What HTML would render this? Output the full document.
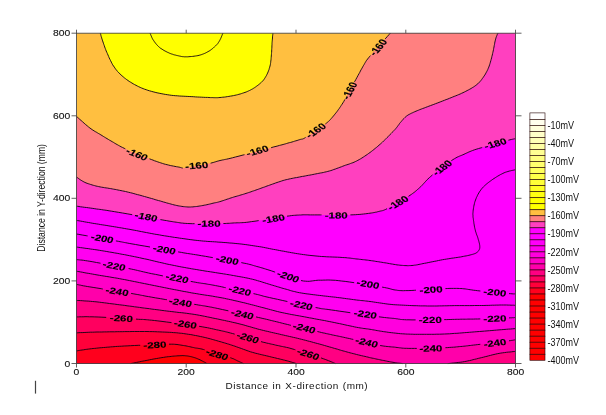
<!DOCTYPE html>
<html><head><meta charset="utf-8"><title>Contour plot</title>
<style>html,body{margin:0;padding:0;background:#fff;overflow:hidden}svg{display:block}</style>
</head><body>
<svg width="606" height="415" viewBox="0 0 606 415" font-family="'Liberation Sans', sans-serif">
<defs><filter id="soft" x="0" y="0" width="606" height="415" filterUnits="userSpaceOnUse" color-interpolation-filters="sRGB"><feGaussianBlur stdDeviation="0.45 0.3"/></filter></defs>
<rect width="606" height="415" fill="#fff"/>
<g filter="url(#soft)">
<rect width="606" height="415" fill="#fff"/>
<rect x="76.5" y="33.2" width="439.0" height="330.3" fill="#ffbf40"/>
<path d="M100.3,33.0 L100.4,33.5 L100.6,34.1 L100.8,34.8 L101.0,35.7 L101.3,36.6 L101.6,37.6 L101.9,38.7 L102.3,39.9 L102.7,41.2 L103.2,42.6 L103.7,44.1 L104.3,45.7 L104.8,47.3 L105.5,49.0 L106.1,50.7 L106.8,52.3 L107.5,54.0 L108.3,55.7 L109.1,57.5 L109.9,59.3 L110.8,61.1 L111.6,62.8 L112.6,64.5 L113.5,66.0 L114.5,67.4 L115.4,68.8 L116.4,70.0 L117.4,71.3 L118.5,72.4 L119.6,73.6 L120.8,74.7 L122.1,75.9 L123.5,77.1 L124.9,78.2 L126.4,79.4 L128.0,80.5 L129.6,81.6 L131.2,82.6 L132.9,83.6 L134.6,84.6 L136.3,85.5 L138.0,86.4 L139.8,87.2 L141.6,88.0 L143.4,88.7 L145.4,89.4 L147.4,90.1 L149.5,90.8 L151.7,91.4 L154.1,92.1 L156.6,92.6 L159.1,93.2 L161.7,93.7 L164.2,94.2 L166.8,94.6 L169.3,95.0 L171.8,95.3 L174.3,95.6 L176.8,95.8 L179.3,96.0 L181.7,96.1 L184.2,96.2 L186.7,96.4 L189.2,96.5 L191.7,96.7 L194.4,96.8 L197.0,97.0 L199.7,97.1 L202.2,97.2 L204.7,97.3 L206.9,97.4 L209.0,97.5 L210.8,97.6 L212.3,97.6 L213.6,97.7 L214.8,97.7 L216.0,97.7 L217.2,97.7 L218.5,97.6 L220.0,97.5 L221.7,97.3 L223.5,97.1 L225.4,96.9 L227.4,96.6 L229.3,96.3 L231.3,96.0 L233.1,95.7 L234.9,95.3 L236.6,94.9 L238.2,94.5 L239.8,94.1 L241.4,93.6 L242.9,93.1 L244.4,92.6 L245.9,92.1 L247.3,91.5 L248.7,90.9 L250.0,90.2 L251.3,89.6 L252.6,88.9 L253.8,88.1 L255.0,87.4 L256.1,86.6 L257.2,85.8 L258.3,85.0 L259.3,84.2 L260.3,83.3 L261.3,82.4 L262.2,81.5 L263.1,80.6 L263.9,79.5 L264.7,78.4 L265.5,77.2 L266.2,75.9 L266.9,74.5 L267.6,73.1 L268.2,71.7 L268.7,70.2 L269.2,68.7 L269.7,67.2 L270.1,65.7 L270.4,64.2 L270.6,62.6 L270.8,61.1 L271.0,59.5 L271.1,57.9 L271.3,56.4 L271.4,54.8 L271.5,53.2 L271.6,51.6 L271.7,50.0 L271.8,48.4 L271.9,46.8 L271.9,45.3 L272.0,43.8 L272.1,42.4 L272.2,41.0 L272.3,39.7 L272.4,38.3 L272.5,37.0 L272.7,35.8 L272.8,34.8 L272.8,33.9 L272.9,33.2Z" fill="#ffff00"/>
<path d="M76.5,116.4 L77.6,117.3 L79.0,118.6 L80.7,120.1 L82.6,121.8 L84.5,123.5 L86.5,125.2 L88.3,126.7 L89.9,128.0 L91.3,129.0 L92.6,129.9 L93.8,130.7 L94.9,131.4 L96.1,132.0 L97.2,132.7 L98.5,133.4 L99.8,134.2 L101.2,135.1 L102.7,136.0 L104.2,136.9 L105.8,137.9 L107.3,138.8 L108.9,139.8 L110.6,140.8 L112.2,141.7 L113.8,142.6 L115.3,143.5 L116.9,144.4 L118.4,145.3 L120.1,146.2 L121.8,147.1 L123.8,148.1 L125.9,149.1 L128.3,150.2 L131.0,151.4 L133.9,152.6 L136.9,153.8 L139.9,155.0 L142.9,156.2 L145.6,157.3 L148.2,158.3 L150.5,159.2 L152.7,160.0 L154.8,160.8 L156.8,161.5 L158.7,162.2 L160.6,162.8 L162.5,163.4 L164.4,164.0 L166.4,164.5 L168.4,165.0 L170.5,165.5 L172.5,165.9 L174.4,166.3 L176.2,166.6 L177.9,166.9 L179.3,167.2 L180.4,167.4 L181.1,167.6 L181.5,167.8 L181.9,167.9 L182.3,168.0 L182.9,168.0 L184.0,167.9 L185.5,167.7 L187.7,167.4 L190.5,167.0 L193.6,166.4 L196.9,165.8 L200.3,165.2 L203.6,164.6 L206.5,164.0 L209.0,163.5 L211.0,163.1 L212.6,162.7 L214.0,162.3 L215.2,161.9 L216.3,161.6 L217.4,161.2 L218.6,160.9 L220.0,160.5 L221.3,160.2 L222.4,160.0 L223.3,159.8 L224.4,159.6 L225.7,159.4 L227.3,159.0 L229.5,158.5 L232.4,157.8 L236.2,156.8 L241.0,155.6 L246.4,154.2 L252.1,152.7 L257.8,151.2 L263.3,149.7 L268.1,148.4 L272.1,147.4 L275.2,146.6 L277.6,145.9 L279.6,145.4 L281.2,145.0 L282.7,144.6 L284.0,144.2 L285.4,143.8 L287.0,143.4 L288.7,142.9 L290.4,142.4 L292.1,141.9 L293.8,141.4 L295.4,141.0 L296.9,140.5 L298.3,140.1 L299.5,139.7 L300.5,139.4 L301.2,139.2 L301.8,139.2 L302.3,139.1 L302.8,138.9 L303.5,138.6 L304.4,138.1 L305.7,137.4 L307.4,136.3 L309.5,135.0 L311.9,133.4 L314.3,131.7 L316.8,129.9 L319.2,128.3 L321.3,126.8 L323.0,125.6 L324.3,124.7 L325.3,124.0 L326.1,123.4 L326.8,122.9 L327.3,122.4 L327.9,122.0 L328.5,121.4 L329.3,120.6 L330.2,119.7 L331.1,118.7 L332.0,117.7 L332.9,116.6 L333.9,115.5 L334.8,114.3 L335.8,113.1 L336.7,111.9 L337.6,110.7 L338.4,109.6 L339.2,108.5 L340.1,107.3 L340.9,106.0 L341.9,104.5 L343.0,102.8 L344.2,100.7 L345.7,98.2 L347.3,95.1 L349.2,91.8 L351.1,88.3 L353.0,84.8 L354.8,81.5 L356.4,78.4 L357.8,75.9 L358.9,73.8 L359.9,72.1 L360.7,70.6 L361.4,69.2 L362.1,68.1 L362.7,66.9 L363.3,65.8 L364.0,64.7 L364.6,63.7 L365.0,62.9 L365.4,62.2 L365.8,61.5 L366.3,60.8 L367.0,59.8 L368.0,58.5 L369.4,56.8 L371.4,54.4 L374.0,51.4 L377.1,48.0 L380.2,44.4 L383.4,40.9 L386.3,37.6 L388.7,34.9 L390.4,33.0 L515.5,33.2 L515.5,363.5 L76.5,363.5Z" fill="#ff8080"/>
<path d="M76.5,177.1 L77.1,177.5 L77.9,178.1 L78.9,178.8 L79.9,179.5 L81.1,180.3 L82.3,181.0 L83.6,181.8 L84.9,182.4 L86.2,183.0 L87.7,183.5 L89.1,184.0 L90.7,184.5 L92.3,185.0 L93.9,185.4 L95.6,185.9 L97.3,186.3 L99.0,186.7 L100.8,187.0 L102.7,187.4 L104.6,187.7 L106.5,188.0 L108.4,188.3 L110.3,188.6 L112.2,188.9 L114.0,189.2 L115.9,189.6 L117.7,189.9 L119.5,190.3 L121.3,190.6 L123.2,191.0 L125.1,191.4 L127.1,191.9 L129.2,192.4 L131.3,192.9 L133.4,193.5 L135.6,194.1 L137.9,194.7 L140.1,195.3 L142.3,195.9 L144.5,196.5 L146.7,197.1 L148.9,197.7 L151.1,198.4 L153.4,199.0 L155.6,199.7 L157.7,200.3 L159.8,200.9 L161.9,201.5 L163.9,202.1 L165.9,202.6 L167.8,203.2 L169.7,203.7 L171.5,204.2 L173.3,204.7 L175.1,205.1 L176.8,205.5 L178.5,205.8 L180.1,206.1 L181.6,206.4 L183.2,206.6 L184.7,206.8 L186.2,206.9 L187.7,207.0 L189.2,207.0 L190.8,207.0 L192.3,206.9 L193.8,206.8 L195.4,206.6 L196.9,206.4 L198.5,206.2 L200.0,205.9 L201.6,205.7 L203.2,205.4 L204.8,205.1 L206.5,204.7 L208.2,204.4 L209.8,204.0 L211.3,203.6 L212.8,203.3 L214.0,203.0 L215.0,202.8 L215.8,202.6 L216.4,202.5 L217.0,202.4 L217.6,202.3 L218.2,202.1 L219.0,201.9 L220.0,201.6 L221.2,201.2 L222.7,200.8 L224.2,200.2 L225.8,199.7 L227.5,199.1 L229.2,198.6 L230.8,198.0 L232.4,197.5 L234.0,197.0 L235.5,196.6 L237.1,196.1 L238.6,195.7 L240.2,195.2 L241.7,194.8 L243.2,194.3 L244.8,193.8 L246.3,193.3 L247.9,192.8 L249.4,192.3 L251.0,191.8 L252.5,191.2 L254.1,190.7 L255.6,190.1 L257.2,189.6 L258.7,189.1 L260.3,188.5 L261.8,188.0 L263.3,187.4 L264.8,186.8 L266.4,186.3 L268.0,185.7 L269.7,185.1 L271.4,184.5 L273.3,183.8 L275.1,183.2 L277.0,182.5 L278.9,181.9 L280.8,181.2 L282.7,180.6 L284.6,180.1 L286.5,179.6 L288.3,179.2 L290.2,178.8 L292.1,178.4 L293.9,178.1 L295.8,177.7 L297.6,177.4 L299.5,177.0 L301.4,176.6 L303.2,176.3 L305.1,175.9 L306.9,175.6 L308.8,175.3 L310.7,174.9 L312.5,174.6 L314.4,174.2 L316.3,173.8 L318.1,173.5 L320.0,173.1 L321.8,172.8 L323.7,172.4 L325.6,172.0 L327.4,171.5 L329.3,171.0 L331.2,170.4 L333.1,169.8 L335.0,169.1 L336.9,168.4 L338.8,167.7 L340.7,167.0 L342.5,166.3 L344.2,165.7 L345.9,165.1 L347.5,164.6 L349.0,164.1 L350.5,163.5 L352.0,163.0 L353.5,162.4 L355.0,161.8 L356.6,161.0 L358.2,160.1 L359.9,159.2 L361.6,158.2 L363.3,157.1 L365.0,156.0 L366.7,154.8 L368.4,153.7 L370.0,152.5 L371.6,151.3 L373.3,150.0 L374.9,148.7 L376.5,147.4 L378.1,146.0 L379.6,144.7 L381.0,143.4 L382.4,142.2 L383.7,141.0 L384.9,139.8 L386.1,138.7 L387.2,137.5 L388.3,136.4 L389.3,135.4 L390.2,134.4 L391.1,133.5 L391.9,132.7 L392.6,132.0 L393.3,131.3 L393.8,130.7 L394.4,130.1 L394.9,129.5 L395.5,128.9 L396.1,128.2 L396.7,127.5 L397.3,126.7 L397.9,125.9 L398.5,125.1 L399.1,124.2 L399.7,123.4 L400.3,122.6 L401.0,121.8 L401.7,121.0 L402.4,120.2 L403.1,119.4 L403.8,118.6 L404.5,117.8 L405.4,117.1 L406.2,116.3 L407.2,115.6 L408.2,114.9 L409.3,114.3 L410.5,113.7 L411.7,113.1 L412.9,112.5 L414.3,112.0 L415.7,111.3 L417.2,110.7 L418.8,110.0 L420.5,109.4 L422.3,108.7 L424.2,108.0 L426.1,107.2 L428.1,106.5 L430.1,105.8 L432.1,105.0 L434.2,104.2 L436.3,103.4 L438.6,102.5 L440.8,101.7 L443.0,100.8 L445.3,100.0 L447.4,99.1 L449.5,98.3 L451.5,97.5 L453.5,96.7 L455.4,96.0 L457.3,95.2 L459.1,94.4 L460.9,93.6 L462.7,92.8 L464.4,92.0 L466.1,91.1 L467.8,90.3 L469.5,89.4 L471.1,88.5 L472.6,87.5 L474.1,86.6 L475.5,85.6 L476.8,84.6 L478.0,83.6 L479.1,82.5 L480.0,81.5 L481.0,80.4 L481.8,79.3 L482.6,78.2 L483.4,77.1 L484.2,75.9 L484.9,74.7 L485.6,73.6 L486.3,72.4 L486.9,71.3 L487.5,70.0 L488.1,68.8 L488.7,67.4 L489.2,66.0 L489.7,64.5 L490.2,62.8 L490.7,61.1 L491.2,59.3 L491.7,57.5 L492.1,55.7 L492.5,54.0 L492.9,52.3 L493.3,50.7 L493.6,49.0 L493.9,47.3 L494.2,45.7 L494.5,44.1 L494.8,42.6 L495.1,41.2 L495.4,39.9 L495.7,38.7 L496.1,37.6 L496.4,36.6 L496.8,35.7 L497.1,34.8 L497.5,34.1 L497.7,33.5 L497.9,33.0 L515.5,33.2 L515.5,363.5 L76.5,363.5Z" fill="#ff40bf"/>
<path d="M76.5,206.2 L77.9,206.4 L79.8,206.6 L82.0,206.9 L84.4,207.3 L87.0,207.6 L89.7,208.0 L92.3,208.3 L94.8,208.7 L97.0,209.0 L99.1,209.3 L101.1,209.6 L103.1,209.9 L105.4,210.2 L107.9,210.6 L111.0,211.1 L114.7,211.7 L119.3,212.5 L124.8,213.4 L131.0,214.5 L137.4,215.6 L143.7,216.7 L149.7,217.7 L155.1,218.7 L159.4,219.4 L162.7,220.0 L165.2,220.4 L167.2,220.8 L168.7,221.0 L170.0,221.2 L171.3,221.5 L172.6,221.7 L174.3,221.9 L176.1,222.2 L177.7,222.4 L179.2,222.7 L180.8,222.9 L182.4,223.1 L184.4,223.3 L186.6,223.5 L189.2,223.6 L192.4,223.7 L196.2,223.7 L200.3,223.8 L204.6,223.7 L208.9,223.7 L213.0,223.7 L216.8,223.6 L220.0,223.6 L222.6,223.5 L224.8,223.5 L226.8,223.4 L228.4,223.3 L230.0,223.2 L231.5,223.1 L233.1,223.0 L234.9,222.9 L236.6,222.8 L238.1,222.8 L239.5,222.8 L241.0,222.7 L242.6,222.6 L244.5,222.5 L246.9,222.3 L249.8,221.9 L253.5,221.4 L258.1,220.7 L263.1,219.9 L268.4,219.1 L273.7,218.2 L278.7,217.4 L283.3,216.7 L287.0,216.2 L289.9,215.8 L292.3,215.5 L294.3,215.3 L296.0,215.2 L297.5,215.1 L298.9,215.0 L300.3,215.0 L301.9,214.9 L303.4,214.8 L304.6,214.8 L305.7,214.8 L306.8,214.8 L308.1,214.8 L309.7,214.9 L311.7,214.9 L314.4,214.9 L317.9,214.9 L322.1,214.9 L326.9,215.0 L332.0,215.0 L337.1,215.0 L342.0,215.0 L346.5,215.0 L350.4,214.9 L353.7,214.8 L356.7,214.6 L359.4,214.4 L361.8,214.2 L364.1,213.9 L366.2,213.7 L368.1,213.4 L370.0,213.2 L371.7,213.0 L373.2,212.7 L374.5,212.5 L375.7,212.2 L376.8,212.0 L377.8,211.7 L378.9,211.5 L379.9,211.2 L380.8,211.0 L381.5,210.8 L382.1,210.7 L382.7,210.6 L383.4,210.4 L384.3,210.0 L385.4,209.5 L387.0,208.7 L389.1,207.6 L391.6,206.2 L394.5,204.6 L397.5,202.9 L400.6,201.1 L403.5,199.4 L406.2,197.7 L408.5,196.3 L410.4,195.1 L412.0,193.9 L413.5,192.9 L414.8,191.9 L416.0,190.9 L417.1,189.9 L418.4,188.8 L419.7,187.6 L421.0,186.4 L422.2,185.1 L423.4,183.8 L424.6,182.5 L425.9,181.1 L427.3,179.6 L428.9,178.1 L430.8,176.4 L433.0,174.6 L435.6,172.5 L438.4,170.3 L441.3,168.0 L444.2,165.8 L447.0,163.7 L449.6,161.9 L451.9,160.3 L453.9,159.0 L455.6,158.0 L457.2,157.2 L458.7,156.5 L460.1,155.9 L461.5,155.3 L462.9,154.7 L464.4,154.1 L465.8,153.4 L467.1,152.9 L468.2,152.3 L469.4,151.8 L470.8,151.2 L472.4,150.6 L474.4,149.9 L476.8,149.1 L479.9,148.1 L483.8,147.0 L488.1,145.8 L492.6,144.5 L497.1,143.3 L501.3,142.2 L504.9,141.2 L507.8,140.4 L509.9,139.8 L511.5,139.4 L512.7,139.2 L513.5,139.0 L514.1,138.9 L514.5,138.8 L514.9,138.8 L515.3,138.7 L515.5,363.5 L76.5,363.5Z" fill="#ff00ff"/>
<path d="M76.5,220.4 L77.9,220.6 L79.8,221.0 L82.0,221.4 L84.4,221.8 L87.0,222.3 L89.7,222.7 L92.3,223.2 L94.8,223.6 L97.2,224.0 L99.7,224.4 L102.3,224.8 L104.8,225.2 L107.4,225.6 L109.9,226.0 L112.3,226.4 L114.7,226.8 L116.9,227.2 L119.0,227.5 L121.0,227.9 L123.0,228.2 L125.1,228.6 L127.2,228.9 L129.5,229.3 L132.0,229.8 L134.7,230.3 L137.7,230.9 L140.8,231.5 L144.0,232.1 L147.2,232.7 L150.5,233.3 L153.7,233.9 L156.9,234.5 L160.0,235.0 L163.2,235.6 L166.4,236.1 L169.6,236.6 L172.8,237.1 L175.8,237.5 L178.8,238.0 L181.7,238.4 L184.4,238.8 L187.1,239.2 L189.6,239.5 L192.0,239.8 L194.5,240.1 L196.8,240.4 L199.2,240.7 L201.6,240.9 L204.0,241.1 L206.3,241.3 L208.5,241.5 L210.8,241.6 L213.1,241.7 L215.3,241.9 L217.6,242.0 L220.0,242.2 L222.4,242.4 L224.9,242.6 L227.4,242.8 L229.9,243.0 L232.4,243.2 L234.9,243.4 L237.4,243.6 L239.9,243.9 L242.4,244.2 L244.9,244.5 L247.3,244.8 L249.8,245.2 L252.3,245.5 L254.7,245.9 L257.2,246.3 L259.7,246.7 L262.2,247.1 L264.7,247.6 L267.2,248.1 L269.6,248.6 L272.1,249.1 L274.6,249.5 L277.1,250.0 L279.6,250.5 L282.1,251.0 L284.6,251.4 L287.1,251.9 L289.6,252.3 L292.0,252.8 L294.5,253.2 L297.0,253.6 L299.5,254.0 L301.9,254.4 L304.3,254.7 L306.7,255.0 L309.1,255.3 L311.5,255.6 L314.0,255.8 L316.6,256.1 L319.3,256.3 L322.3,256.5 L325.4,256.7 L328.8,256.9 L332.2,257.0 L335.5,257.1 L338.7,257.3 L341.6,257.4 L344.2,257.6 L346.4,257.8 L348.2,257.9 L349.9,258.1 L351.3,258.3 L352.7,258.5 L354.1,258.6 L355.5,258.8 L357.0,259.0 L358.6,259.2 L360.2,259.3 L361.8,259.5 L363.4,259.7 L365.0,259.9 L366.6,260.1 L368.3,260.3 L370.0,260.5 L371.8,260.7 L373.6,261.0 L375.4,261.3 L377.3,261.6 L379.2,261.9 L381.1,262.2 L383.0,262.5 L384.9,262.8 L386.8,263.1 L388.7,263.4 L390.6,263.8 L392.5,264.1 L394.4,264.4 L396.3,264.7 L398.1,265.0 L399.8,265.2 L401.5,265.4 L403.0,265.5 L404.6,265.6 L406.0,265.6 L407.5,265.7 L409.0,265.6 L410.5,265.6 L412.0,265.5 L413.5,265.4 L415.0,265.2 L416.4,264.9 L417.8,264.7 L419.3,264.4 L420.9,264.0 L422.7,263.7 L424.6,263.3 L426.8,262.9 L429.1,262.4 L431.6,261.9 L434.2,261.4 L436.9,260.8 L439.5,260.3 L442.1,259.8 L444.5,259.4 L446.8,259.0 L449.1,258.6 L451.4,258.3 L453.7,258.0 L455.9,257.7 L458.0,257.4 L460.0,257.0 L461.9,256.7 L463.7,256.4 L465.5,256.0 L467.3,255.6 L468.9,255.3 L470.4,254.9 L471.9,254.6 L473.2,254.2 L474.3,253.8 L475.3,253.4 L476.1,253.0 L476.7,252.6 L477.3,252.2 L477.7,251.8 L478.1,251.3 L478.5,250.9 L478.8,250.4 L479.1,249.9 L479.4,249.4 L479.6,248.9 L479.7,248.4 L479.8,247.9 L479.8,247.3 L479.8,246.6 L479.8,245.9 L479.7,245.1 L479.6,244.2 L479.4,243.3 L479.1,242.3 L478.8,241.3 L478.6,240.3 L478.3,239.4 L478.0,238.4 L477.7,237.5 L477.4,236.6 L477.1,235.7 L476.7,234.8 L476.4,233.9 L476.1,232.9 L475.8,232.0 L475.5,231.0 L475.2,230.0 L475.0,229.0 L474.8,227.9 L474.5,226.9 L474.3,225.8 L474.1,224.7 L474.0,223.6 L473.8,222.4 L473.6,221.2 L473.5,220.1 L473.3,218.9 L473.1,217.6 L473.0,216.4 L472.9,215.1 L472.9,213.8 L473.0,212.4 L473.1,211.0 L473.3,209.4 L473.5,207.9 L473.8,206.3 L474.1,204.7 L474.5,203.1 L475.0,201.5 L475.5,200.0 L476.1,198.5 L476.7,197.1 L477.4,195.6 L478.1,194.2 L478.9,192.8 L479.8,191.4 L480.7,190.1 L481.7,188.8 L482.8,187.6 L483.9,186.4 L485.1,185.3 L486.3,184.2 L487.6,183.2 L488.9,182.1 L490.3,181.1 L491.7,180.1 L493.1,179.1 L494.7,178.1 L496.2,177.1 L497.8,176.1 L499.4,175.2 L501.0,174.3 L502.6,173.5 L504.1,172.8 L505.6,172.2 L507.2,171.7 L508.9,171.2 L510.5,170.8 L512.0,170.5 L513.3,170.2 L514.4,169.9 L515.3,169.7 L515.5,363.5 L76.5,363.5Z" fill="#ff00ff"/>
<path d="M76.5,234.0 L79.7,234.6 L84.1,235.3 L89.4,236.3 L95.2,237.3 L101.1,238.3 L106.8,239.3 L111.8,240.2 L115.9,240.9 L118.8,241.4 L120.8,241.8 L122.3,242.1 L123.5,242.3 L124.7,242.6 L126.3,242.9 L128.7,243.3 L132.0,243.9 L136.6,244.7 L142.3,245.7 L148.7,246.8 L155.4,248.0 L162.2,249.2 L168.7,250.3 L174.5,251.3 L179.3,252.1 L182.9,252.7 L185.6,253.2 L187.7,253.5 L189.5,253.7 L191.2,254.0 L193.1,254.3 L195.7,254.7 L199.1,255.3 L203.6,256.1 L208.9,257.0 L214.8,258.0 L221.0,259.0 L227.1,260.1 L232.9,261.1 L238.1,262.0 L242.3,262.8 L245.5,263.5 L248.1,264.0 L250.1,264.5 L251.7,264.9 L253.0,265.3 L254.3,265.7 L255.6,266.2 L257.2,266.6 L258.7,267.0 L260.0,267.4 L261.2,267.7 L262.4,268.0 L263.7,268.4 L265.2,268.9 L267.2,269.5 L269.7,270.3 L272.9,271.4 L276.7,272.7 L281.0,274.2 L285.5,275.8 L290.0,277.3 L294.4,278.7 L298.4,279.9 L301.9,280.7 L304.8,281.2 L307.2,281.3 L309.4,281.3 L311.4,281.1 L313.2,280.8 L315.1,280.5 L317.1,280.3 L319.3,280.2 L321.5,280.2 L323.6,280.1 L325.6,280.1 L327.7,280.0 L330.0,280.1 L332.6,280.2 L335.6,280.4 L339.2,280.7 L343.6,281.2 L348.8,281.9 L354.6,282.7 L360.6,283.6 L366.6,284.6 L372.2,285.4 L377.2,286.2 L381.2,286.9 L384.3,287.4 L386.6,287.9 L388.4,288.4 L389.9,288.7 L391.0,289.1 L392.2,289.4 L393.4,289.7 L394.8,289.9 L396.2,290.1 L397.4,290.3 L398.4,290.4 L399.5,290.6 L400.8,290.6 L402.4,290.7 L404.5,290.7 L407.2,290.6 L410.8,290.5 L415.2,290.2 L420.2,290.0 L425.5,289.6 L430.9,289.3 L436.0,289.0 L440.6,288.8 L444.5,288.6 L447.6,288.5 L450.3,288.4 L452.6,288.4 L454.6,288.4 L456.4,288.4 L458.2,288.4 L460.0,288.5 L461.9,288.6 L463.8,288.7 L465.4,288.9 L466.9,289.2 L468.4,289.4 L470.1,289.7 L471.9,290.0 L474.1,290.3 L476.8,290.6 L480.2,290.9 L484.2,291.3 L488.7,291.8 L493.4,292.2 L498.1,292.6 L502.4,293.0 L506.1,293.4 L509.0,293.6 L511.1,293.8 L512.5,293.9 L513.5,293.9 L514.2,293.9 L514.5,293.9 L514.8,293.8 L515.0,293.8 L515.3,293.8 L515.5,363.5 L76.5,363.5Z" fill="#ff00fa"/>
<path d="M76.5,247.1 L77.9,247.3 L79.6,247.5 L81.7,247.8 L84.1,248.1 L86.6,248.4 L89.3,248.8 L92.1,249.2 L94.8,249.6 L97.6,250.0 L100.6,250.5 L103.7,251.0 L106.8,251.5 L110.1,252.1 L113.3,252.7 L116.5,253.2 L119.7,253.8 L122.8,254.4 L125.9,255.0 L129.0,255.6 L132.1,256.2 L135.2,256.8 L138.3,257.5 L141.4,258.1 L144.5,258.8 L147.6,259.5 L150.7,260.2 L153.8,260.9 L156.9,261.7 L160.0,262.4 L163.1,263.1 L166.2,263.8 L169.3,264.5 L172.4,265.1 L175.5,265.8 L178.6,266.4 L181.7,267.0 L184.8,267.5 L187.9,268.1 L191.0,268.6 L194.2,269.2 L197.5,269.8 L200.8,270.3 L204.3,270.9 L207.7,271.4 L211.1,271.9 L214.3,272.4 L217.3,272.9 L220.0,273.3 L222.4,273.7 L224.4,274.0 L226.3,274.3 L228.0,274.6 L229.6,274.9 L231.3,275.1 L233.0,275.5 L234.9,275.8 L237.0,276.2 L239.1,276.5 L241.2,276.9 L243.4,277.3 L245.7,277.8 L247.9,278.2 L250.1,278.7 L252.3,279.2 L254.5,279.8 L256.7,280.4 L258.9,281.1 L261.2,281.7 L263.4,282.4 L265.5,283.1 L267.6,283.8 L269.7,284.4 L271.7,285.0 L273.6,285.6 L275.5,286.1 L277.3,286.7 L279.1,287.2 L280.9,287.8 L282.8,288.3 L284.6,288.8 L286.4,289.3 L288.2,289.8 L290.0,290.4 L291.7,290.9 L293.6,291.3 L295.4,291.8 L297.4,292.3 L299.5,292.7 L301.7,293.1 L304.1,293.5 L306.6,293.8 L309.1,294.1 L311.7,294.5 L314.2,294.8 L316.8,295.1 L319.3,295.4 L321.8,295.7 L324.3,296.0 L326.9,296.3 L329.4,296.6 L331.9,296.9 L334.4,297.1 L336.8,297.4 L339.2,297.7 L341.5,298.0 L343.8,298.3 L346.1,298.6 L348.3,298.9 L350.5,299.2 L352.6,299.5 L354.6,299.8 L356.6,300.0 L358.4,300.2 L360.1,300.4 L361.6,300.6 L363.1,300.7 L364.7,300.9 L366.3,301.1 L368.0,301.3 L370.0,301.5 L372.2,301.8 L374.5,302.1 L377.0,302.5 L379.6,302.9 L382.2,303.3 L384.8,303.7 L387.4,304.0 L389.9,304.3 L392.4,304.5 L394.8,304.7 L397.2,304.9 L399.6,305.0 L402.1,305.2 L404.6,305.3 L407.1,305.4 L409.7,305.5 L412.4,305.6 L415.1,305.7 L417.8,305.8 L420.6,305.9 L423.4,305.9 L426.3,306.0 L429.2,306.0 L432.1,306.0 L435.1,306.0 L438.1,306.0 L441.2,305.9 L444.4,305.8 L447.5,305.8 L450.6,305.7 L453.8,305.6 L456.9,305.6 L460.0,305.6 L463.2,305.6 L466.4,305.6 L469.6,305.6 L472.8,305.6 L475.8,305.5 L478.8,305.5 L481.7,305.5 L484.5,305.5 L487.2,305.4 L489.8,305.3 L492.3,305.2 L494.8,305.1 L497.2,305.1 L499.4,305.0 L501.6,305.0 L503.7,305.0 L505.8,305.0 L507.8,305.1 L509.7,305.1 L511.4,305.2 L513.0,305.2 L514.3,305.3 L515.3,305.3 L515.5,363.5 L76.5,363.5Z" fill="#ff00f0"/>
<path d="M76.5,259.6 L77.4,259.7 L78.3,259.8 L79.4,259.9 L80.7,260.0 L82.4,260.2 L84.4,260.4 L86.9,260.8 L89.9,261.3 L93.7,262.0 L98.4,262.8 L103.7,263.8 L109.3,264.8 L115.0,265.9 L120.5,266.9 L125.4,267.9 L129.6,268.7 L132.9,269.4 L135.4,269.9 L137.5,270.4 L139.4,270.9 L141.3,271.4 L143.4,271.9 L146.1,272.5 L149.5,273.2 L153.9,274.1 L159.1,275.2 L164.9,276.3 L170.9,277.5 L176.9,278.7 L182.5,279.8 L187.6,280.8 L191.7,281.6 L194.9,282.2 L197.4,282.6 L199.4,282.9 L200.9,283.2 L202.3,283.4 L203.6,283.5 L205.0,283.7 L206.6,284.0 L208.2,284.3 L209.6,284.5 L210.9,284.7 L212.1,285.0 L213.6,285.2 L215.3,285.5 L217.4,286.0 L220.0,286.5 L223.3,287.2 L227.4,288.0 L231.9,289.0 L236.6,290.0 L241.3,291.0 L245.9,291.9 L250.0,292.8 L253.5,293.6 L256.1,294.2 L258.1,294.7 L259.5,295.1 L260.8,295.4 L262.2,295.8 L264.0,296.3 L266.4,296.8 L269.7,297.6 L274.2,298.6 L279.8,299.8 L286.0,301.2 L292.7,302.6 L299.3,304.1 L305.5,305.4 L311.1,306.6 L315.6,307.5 L318.8,308.1 L321.0,308.5 L322.4,308.8 L323.5,308.9 L324.6,309.1 L326.1,309.2 L328.4,309.5 L331.7,310.0 L336.4,310.7 L342.3,311.5 L348.9,312.5 L355.9,313.5 L362.9,314.5 L369.5,315.4 L375.3,316.3 L380.0,316.9 L383.5,317.4 L386.1,317.7 L388.1,317.9 L389.6,318.0 L390.9,318.2 L392.1,318.2 L393.3,318.4 L394.8,318.5 L396.3,318.7 L397.5,318.9 L398.6,319.1 L399.7,319.3 L400.9,319.4 L402.5,319.6 L404.5,319.7 L407.2,319.8 L410.7,319.8 L415.0,319.9 L419.8,319.8 L424.9,319.8 L430.0,319.8 L434.9,319.7 L439.5,319.6 L443.3,319.6 L446.5,319.6 L449.3,319.5 L451.7,319.5 L453.9,319.4 L456.0,319.3 L457.9,319.3 L459.9,319.2 L461.9,319.2 L463.8,319.2 L465.5,319.2 L467.1,319.1 L468.6,319.1 L470.2,319.1 L472.0,319.1 L474.2,319.1 L476.8,319.0 L480.1,318.9 L484.0,318.8 L488.3,318.6 L492.8,318.5 L497.2,318.3 L501.3,318.1 L504.9,318.0 L507.8,317.9 L509.9,317.8 L511.5,317.8 L512.7,317.7 L513.5,317.7 L514.1,317.7 L514.5,317.6 L514.9,317.6 L515.3,317.6 L515.5,363.5 L76.5,363.5Z" fill="#ff00de"/>
<path d="M76.5,271.2 L77.9,271.4 L79.6,271.8 L81.7,272.2 L84.1,272.6 L86.6,273.1 L89.3,273.5 L92.1,274.0 L94.8,274.5 L97.6,275.0 L100.6,275.5 L103.7,276.0 L106.8,276.5 L110.1,277.0 L113.3,277.6 L116.5,278.1 L119.7,278.7 L122.8,279.3 L125.9,279.9 L129.0,280.5 L132.1,281.1 L135.2,281.7 L138.3,282.4 L141.4,283.0 L144.5,283.6 L147.6,284.2 L150.7,284.9 L153.8,285.5 L156.9,286.1 L160.0,286.7 L163.1,287.4 L166.2,288.0 L169.3,288.6 L172.4,289.2 L175.5,289.8 L178.6,290.4 L181.7,291.0 L184.8,291.6 L187.9,292.2 L191.0,292.7 L194.2,293.3 L197.4,293.8 L200.7,294.4 L204.1,294.9 L207.4,295.4 L210.7,295.9 L213.9,296.5 L217.1,297.0 L220.0,297.5 L222.8,298.0 L225.4,298.6 L227.9,299.1 L230.3,299.6 L232.7,300.1 L235.1,300.7 L237.5,301.2 L239.9,301.8 L242.4,302.4 L244.8,303.0 L247.2,303.6 L249.6,304.2 L252.1,304.8 L254.6,305.5 L257.1,306.1 L259.7,306.8 L262.4,307.5 L265.1,308.2 L267.8,309.0 L270.6,309.7 L273.4,310.5 L276.3,311.2 L279.2,311.9 L282.1,312.6 L285.1,313.2 L288.1,313.9 L291.2,314.4 L294.4,315.0 L297.5,315.6 L300.6,316.2 L303.8,316.7 L306.9,317.3 L310.0,317.9 L313.1,318.5 L316.2,319.0 L319.3,319.6 L322.4,320.2 L325.5,320.8 L328.6,321.4 L331.7,322.0 L334.9,322.7 L338.2,323.4 L341.5,324.1 L344.9,324.8 L348.1,325.5 L351.2,326.2 L354.0,326.8 L356.6,327.3 L358.8,327.7 L360.7,328.0 L362.4,328.3 L363.9,328.5 L365.4,328.7 L366.8,328.8 L368.3,329.0 L370.0,329.3 L371.8,329.6 L373.6,329.9 L375.4,330.2 L377.2,330.6 L379.1,330.9 L381.0,331.2 L382.9,331.5 L384.9,331.8 L387.0,332.1 L389.1,332.4 L391.2,332.7 L393.4,332.9 L395.7,333.2 L397.9,333.4 L400.1,333.6 L402.3,333.8 L404.4,333.9 L406.5,334.0 L408.5,334.1 L410.5,334.2 L412.6,334.2 L414.8,334.3 L417.2,334.3 L419.7,334.3 L422.4,334.3 L425.4,334.3 L428.5,334.3 L431.6,334.3 L434.9,334.3 L438.1,334.2 L441.3,334.1 L444.5,334.0 L447.6,333.9 L450.7,333.7 L453.8,333.5 L456.9,333.3 L460.0,333.0 L463.1,332.8 L466.2,332.5 L469.3,332.3 L472.4,332.1 L475.6,331.8 L478.8,331.6 L482.0,331.3 L485.1,331.0 L488.2,330.8 L491.3,330.5 L494.2,330.3 L497.2,330.1 L500.2,329.8 L503.3,329.6 L506.3,329.3 L509.1,329.1 L511.6,328.9 L513.7,328.7 L515.3,328.6 L515.5,363.5 L76.5,363.5Z" fill="#ff00c6"/>
<path d="M76.5,284.4 L77.3,284.6 L78.2,284.8 L79.3,285.0 L80.6,285.2 L82.2,285.5 L84.2,285.9 L86.8,286.4 L89.9,286.9 L94.0,287.6 L99.0,288.4 L104.7,289.3 L110.8,290.2 L116.8,291.2 L122.6,292.1 L127.8,292.9 L132.1,293.6 L135.3,294.1 L137.6,294.5 L139.2,294.9 L140.6,295.2 L142.1,295.4 L143.8,295.8 L146.2,296.2 L149.5,296.8 L154.0,297.6 L159.5,298.5 L165.7,299.5 L172.1,300.6 L178.6,301.7 L184.6,302.7 L190.0,303.6 L194.2,304.3 L197.3,304.8 L199.6,305.2 L201.3,305.5 L202.6,305.7 L203.6,305.8 L204.5,306.0 L205.6,306.2 L207.0,306.4 L208.5,306.7 L209.7,306.9 L210.8,307.1 L212.1,307.3 L213.4,307.6 L215.1,308.0 L217.3,308.4 L220.0,309.0 L223.5,309.8 L227.8,310.7 L232.6,311.7 L237.7,312.8 L242.8,314.0 L247.7,315.0 L252.2,316.0 L256.0,316.9 L259.2,317.6 L261.9,318.3 L264.3,318.8 L266.5,319.3 L268.5,319.8 L270.5,320.3 L272.5,320.8 L274.6,321.3 L276.7,321.8 L278.7,322.3 L280.7,322.8 L282.6,323.3 L284.6,323.8 L286.7,324.3 L289.0,324.9 L291.6,325.5 L294.5,326.2 L297.8,327.0 L301.3,327.8 L304.9,328.6 L308.5,329.5 L312.0,330.3 L315.2,331.0 L318.1,331.7 L320.6,332.3 L322.9,332.8 L324.9,333.2 L326.8,333.7 L328.6,334.1 L330.4,334.5 L332.3,334.9 L334.2,335.3 L336.1,335.7 L337.9,336.1 L339.6,336.5 L341.3,336.8 L343.1,337.2 L345.1,337.6 L347.4,338.1 L350.0,338.7 L353.1,339.4 L356.6,340.2 L360.4,341.1 L364.3,342.0 L368.3,343.0 L372.1,343.8 L375.6,344.6 L378.7,345.2 L381.3,345.7 L383.6,346.0 L385.7,346.3 L387.6,346.5 L389.4,346.7 L391.2,346.9 L392.9,347.0 L394.8,347.2 L396.6,347.4 L398.1,347.6 L399.6,347.8 L401.1,348.0 L402.7,348.1 L404.6,348.3 L406.9,348.3 L409.7,348.4 L413.2,348.4 L417.4,348.4 L422.1,348.3 L426.9,348.2 L431.8,348.1 L436.6,348.0 L440.8,347.8 L444.5,347.7 L447.5,347.6 L450.1,347.4 L452.4,347.3 L454.4,347.1 L456.3,346.9 L458.1,346.8 L460.0,346.6 L461.9,346.4 L463.8,346.2 L465.4,346.1 L467.0,345.9 L468.5,345.7 L470.1,345.5 L472.0,345.3 L474.2,345.0 L476.8,344.7 L480.1,344.3 L484.0,343.9 L488.3,343.4 L492.8,342.8 L497.2,342.3 L501.3,341.8 L504.9,341.4 L507.8,341.0 L509.9,340.7 L511.5,340.5 L512.7,340.3 L513.5,340.1 L514.1,340.0 L514.5,339.9 L514.9,339.8 L515.3,339.7 L515.5,363.5 L76.5,363.5Z" fill="#ff00aa"/>
<path d="M76.5,300.4 L77.9,300.5 L79.6,300.6 L81.7,300.7 L84.1,300.9 L86.6,301.0 L89.3,301.2 L92.1,301.4 L94.8,301.7 L97.6,302.0 L100.6,302.3 L103.7,302.7 L106.8,303.1 L110.1,303.5 L113.3,304.0 L116.5,304.4 L119.7,304.8 L122.8,305.2 L125.9,305.6 L129.0,306.0 L132.1,306.4 L135.2,306.9 L138.3,307.3 L141.4,307.7 L144.5,308.1 L147.6,308.5 L150.7,308.9 L153.8,309.3 L156.9,309.7 L160.0,310.1 L163.1,310.5 L166.2,310.9 L169.3,311.3 L172.4,311.7 L175.5,312.0 L178.6,312.4 L181.7,312.7 L184.8,313.1 L187.9,313.5 L191.0,313.9 L194.2,314.4 L197.4,314.9 L200.7,315.5 L204.1,316.2 L207.4,316.9 L210.7,317.5 L213.9,318.2 L217.1,318.9 L220.0,319.5 L222.8,320.1 L225.4,320.6 L227.9,321.2 L230.3,321.7 L232.7,322.3 L235.1,322.8 L237.5,323.4 L239.9,324.0 L242.4,324.6 L244.9,325.3 L247.3,326.0 L249.8,326.7 L252.3,327.5 L254.7,328.2 L257.2,328.8 L259.7,329.5 L262.2,330.1 L264.7,330.7 L267.2,331.3 L269.6,331.9 L272.1,332.5 L274.6,333.1 L277.1,333.6 L279.6,334.2 L282.1,334.8 L284.6,335.3 L287.1,335.9 L289.6,336.5 L292.0,337.0 L294.5,337.6 L297.0,338.2 L299.5,338.8 L302.0,339.4 L304.5,340.1 L307.1,340.7 L309.6,341.4 L312.1,342.1 L314.6,342.7 L317.0,343.4 L319.3,344.0 L321.6,344.6 L323.8,345.2 L325.9,345.9 L328.0,346.5 L330.1,347.1 L332.1,347.7 L334.1,348.2 L336.0,348.8 L337.9,349.3 L339.6,349.9 L341.3,350.4 L343.0,350.9 L344.7,351.3 L346.4,351.8 L348.1,352.3 L350.0,352.8 L352.0,353.3 L354.0,353.8 L356.1,354.3 L358.3,354.9 L360.4,355.4 L362.5,355.9 L364.6,356.4 L366.5,356.8 L368.3,357.2 L370.0,357.6 L371.7,358.0 L373.3,358.3 L374.9,358.7 L376.5,359.0 L378.1,359.4 L379.7,359.7 L381.4,360.0 L383.1,360.4 L384.8,360.8 L386.6,361.1 L388.3,361.4 L389.9,361.7 L391.5,362.0 L393.0,362.3 L394.4,362.5 L395.9,362.7 L397.3,362.9 L398.6,363.1 L399.8,363.3 L400.9,363.4 L401.8,363.5 L402.5,363.6 L76.5,363.5Z" fill="#ff0082"/>
<path d="M447.8,363.6 L449.1,363.5 L450.8,363.3 L452.8,363.1 L455.0,362.9 L457.4,362.6 L459.8,362.3 L462.2,362.0 L464.4,361.6 L466.5,361.2 L468.7,360.7 L470.8,360.3 L473.0,359.7 L475.2,359.2 L477.4,358.7 L479.5,358.1 L481.7,357.6 L483.9,357.1 L486.1,356.5 L488.3,355.9 L490.5,355.4 L492.7,354.8 L494.8,354.3 L497.0,353.8 L499.1,353.4 L501.3,353.0 L503.6,352.7 L506.0,352.4 L508.3,352.1 L510.5,351.9 L512.4,351.7 L514.1,351.5 L515.3,351.4 L515.5,363.5Z" fill="#ff0082"/>
<path d="M76.5,316.9 L77.8,316.9 L79.3,316.8 L81.0,316.8 L83.1,316.8 L85.5,316.7 L88.2,316.7 L91.3,316.8 L94.8,316.9 L99.0,317.1 L104.0,317.3 L109.6,317.6 L115.4,317.9 L121.2,318.2 L126.8,318.6 L131.8,318.8 L136.0,319.1 L139.2,319.3 L141.6,319.4 L143.4,319.5 L145.0,319.6 L146.6,319.7 L148.5,319.9 L151.0,320.1 L154.4,320.5 L158.9,321.0 L164.3,321.7 L170.3,322.4 L176.6,323.2 L182.9,324.0 L189.0,324.9 L194.5,325.6 L199.1,326.3 L202.9,326.9 L206.2,327.5 L209.1,328.0 L211.6,328.6 L213.8,329.1 L215.9,329.6 L218.0,330.0 L220.0,330.5 L221.8,330.9 L223.3,331.2 L224.6,331.5 L225.7,331.8 L226.9,332.1 L228.4,332.4 L230.1,332.9 L232.4,333.5 L235.3,334.3 L238.7,335.3 L242.5,336.4 L246.5,337.5 L250.5,338.7 L254.3,339.8 L257.9,340.8 L261.0,341.6 L263.6,342.3 L265.9,342.9 L268.0,343.4 L269.9,343.8 L271.7,344.2 L273.5,344.6 L275.2,345.0 L277.1,345.4 L278.9,345.8 L280.6,346.1 L282.1,346.4 L283.7,346.8 L285.4,347.1 L287.3,347.5 L289.4,348.1 L292.0,348.8 L295.1,349.7 L298.8,350.8 L302.8,352.1 L307.0,353.4 L311.1,354.7 L315.1,356.0 L318.7,357.2 L321.8,358.2 L324.4,359.1 L326.7,360.0 L328.7,360.8 L330.5,361.5 L332.1,362.1 L333.4,362.7 L334.6,363.2 L335.5,363.6 L76.5,363.5Z" fill="#ff005f"/>
<path d="M76.5,332.8 L77.9,332.7 L79.6,332.7 L81.7,332.6 L84.1,332.5 L86.6,332.4 L89.3,332.3 L92.1,332.2 L94.8,332.1 L97.6,332.0 L100.6,332.0 L103.7,331.9 L106.8,331.9 L110.1,331.8 L113.3,331.8 L116.5,331.7 L119.7,331.7 L122.8,331.7 L125.9,331.6 L129.0,331.6 L132.1,331.5 L135.2,331.5 L138.3,331.5 L141.4,331.5 L144.5,331.5 L147.7,331.5 L150.9,331.6 L154.1,331.7 L157.4,331.8 L160.5,331.9 L163.6,332.0 L166.6,332.2 L169.3,332.3 L171.8,332.5 L174.2,332.6 L176.4,332.8 L178.5,333.0 L180.5,333.2 L182.5,333.4 L184.6,333.7 L186.7,334.0 L188.9,334.3 L191.1,334.7 L193.3,335.1 L195.5,335.5 L197.7,335.9 L199.9,336.4 L202.0,336.8 L204.1,337.3 L206.2,337.8 L208.2,338.3 L210.2,338.8 L212.2,339.4 L214.2,339.9 L216.1,340.5 L218.1,341.0 L220.0,341.6 L221.9,342.2 L223.7,342.7 L225.6,343.2 L227.4,343.8 L229.2,344.4 L231.0,344.9 L232.9,345.6 L234.9,346.2 L237.0,346.9 L239.1,347.7 L241.2,348.5 L243.4,349.3 L245.7,350.1 L247.9,350.9 L250.1,351.6 L252.3,352.3 L254.5,352.9 L256.7,353.5 L258.9,354.1 L261.2,354.6 L263.4,355.1 L265.5,355.6 L267.6,356.1 L269.7,356.6 L271.7,357.1 L273.7,357.6 L275.6,358.0 L277.5,358.5 L279.3,358.9 L281.1,359.3 L282.9,359.8 L284.6,360.2 L286.3,360.7 L288.1,361.1 L289.8,361.6 L291.5,362.1 L293.0,362.6 L294.4,363.0 L295.6,363.3 L296.5,363.6 L76.5,363.5Z" fill="#ff003a"/>
<path d="M76.5,350.9 L77.5,350.7 L78.8,350.5 L80.4,350.3 L82.1,350.0 L84.0,349.7 L86.0,349.4 L87.9,349.1 L89.9,348.9 L91.9,348.7 L93.9,348.4 L96.0,348.2 L98.1,348.0 L100.4,347.8 L102.6,347.6 L104.9,347.4 L107.2,347.2 L109.4,347.0 L111.5,346.9 L113.5,346.7 L115.7,346.5 L118.0,346.4 L120.6,346.2 L123.6,346.1 L127.1,345.9 L131.4,345.7 L136.5,345.4 L142.1,345.2 L148.0,344.9 L153.8,344.7 L159.3,344.4 L164.1,344.3 L168.1,344.2 L171.1,344.2 L173.5,344.2 L175.3,344.3 L176.7,344.4 L177.9,344.6 L179.0,344.8 L180.2,345.0 L181.7,345.2 L183.3,345.4 L185.0,345.7 L186.6,346.0 L188.2,346.4 L189.7,346.7 L191.2,347.1 L192.7,347.4 L194.2,347.7 L195.5,347.9 L196.6,348.1 L197.6,348.3 L198.6,348.4 L199.7,348.6 L201.0,348.9 L202.6,349.3 L204.6,349.8 L207.2,350.5 L210.3,351.4 L213.7,352.5 L217.4,353.6 L221.0,354.7 L224.4,355.8 L227.4,356.7 L229.8,357.5 L231.6,358.1 L233.0,358.6 L234.0,359.1 L234.8,359.5 L235.4,359.8 L236.0,360.1 L236.6,360.4 L237.4,360.8 L238.3,361.2 L239.2,361.6 L240.1,362.0 L241.0,362.4 L241.8,362.8 L242.5,363.1 L243.1,363.4 L243.6,363.6 L76.5,363.5Z" fill="#ff001d"/>
<path d="M130.8,363.6 L131.8,363.4 L133.2,363.1 L134.8,362.8 L136.6,362.4 L138.5,362.0 L140.5,361.6 L142.5,361.2 L144.5,360.8 L146.5,360.4 L148.6,360.0 L150.9,359.6 L153.1,359.1 L155.4,358.7 L157.6,358.3 L159.8,357.9 L161.9,357.6 L163.9,357.3 L165.9,357.0 L167.9,356.8 L169.8,356.6 L171.7,356.3 L173.5,356.2 L175.2,356.0 L176.8,355.9 L178.3,355.8 L179.6,355.7 L180.9,355.7 L182.1,355.6 L183.2,355.6 L184.3,355.7 L185.5,355.8 L186.7,355.9 L187.9,356.1 L189.2,356.3 L190.4,356.5 L191.7,356.8 L193.0,357.2 L194.2,357.5 L195.5,358.0 L196.7,358.4 L198.0,358.9 L199.4,359.6 L200.9,360.3 L202.3,361.0 L203.6,361.7 L204.8,362.4 L205.8,362.9 L206.6,363.3Z" fill="#ff0000"/>
<path d="M150.0,33.0 L150.2,33.4 L150.4,33.9 L150.6,34.5 L150.9,35.2 L151.2,36.0 L151.6,36.8 L151.9,37.6 L152.3,38.4 L152.7,39.2 L153.2,39.9 L153.7,40.6 L154.2,41.4 L154.7,42.1 L155.3,42.9 L155.9,43.7 L156.5,44.4 L157.2,45.2 L157.9,45.9 L158.6,46.6 L159.4,47.3 L160.2,48.0 L161.1,48.6 L162.1,49.2 L163.1,49.9 L164.1,50.5 L165.2,51.1 L166.2,51.6 L167.3,52.2 L168.3,52.6 L169.3,53.1 L170.3,53.5 L171.3,53.9 L172.4,54.2 L173.4,54.6 L174.5,54.9 L175.5,55.1 L176.5,55.4 L177.5,55.6 L178.4,55.8 L179.3,56.0 L180.1,56.2 L180.9,56.3 L181.6,56.5 L182.2,56.6 L182.9,56.7 L183.5,56.7 L184.2,56.8 L184.9,56.8 L185.8,56.8 L186.7,56.8 L187.7,56.8 L188.9,56.7 L190.1,56.6 L191.4,56.5 L192.7,56.4 L194.1,56.2 L195.4,56.0 L196.7,55.8 L197.9,55.6 L199.1,55.3 L200.2,55.0 L201.3,54.7 L202.3,54.3 L203.4,53.9 L204.4,53.5 L205.3,53.1 L206.3,52.6 L207.2,52.1 L208.1,51.6 L209.0,51.1 L209.9,50.6 L210.7,50.0 L211.6,49.3 L212.4,48.7 L213.2,48.1 L213.9,47.4 L214.6,46.7 L215.3,46.1 L215.9,45.5 L216.5,44.9 L217.0,44.4 L217.5,43.9 L217.9,43.4 L218.2,42.9 L218.5,42.4 L218.8,42.0 L219.1,41.5 L219.4,41.0 L219.7,40.5 L220.0,39.9 L220.3,39.3 L220.7,38.5 L221.0,37.8 L221.4,36.9 L221.7,36.1 L222.0,35.4 L222.3,34.6 L222.6,34.0 L222.8,33.4 L223.0,33.0" fill="none" stroke="#100010" stroke-width="0.9"/>
<path d="M100.3,33.0 L100.4,33.4 L100.5,33.9 L100.7,34.4 L100.8,35.0 L101.0,35.7 L101.2,36.4 L101.5,37.2 L101.7,38.1 L102.0,39.0 L102.3,39.9 L102.6,40.9 L103.0,42.0 L103.4,43.2 L103.8,44.4 L104.3,45.7 L104.7,47.0 L105.2,48.3 L105.7,49.6 L106.2,51.0 L106.8,52.3 L107.4,53.6 L108.0,55.0 L108.6,56.4 L109.2,57.9 L109.9,59.3 L110.6,60.7 L111.3,62.1 L112.0,63.5 L112.7,64.8 L113.5,66.0 L114.3,67.1 L115.0,68.2 L115.8,69.3 L116.6,70.3 L117.4,71.3 L118.3,72.2 L119.2,73.1 L120.1,74.1 L121.1,75.0 L122.1,75.9 L123.2,76.8 L124.3,77.8 L125.5,78.7 L126.7,79.6 L128.0,80.5 L129.2,81.4 L130.6,82.2 L131.9,83.0 L133.2,83.8 L134.6,84.6 L136.0,85.3 L137.3,86.0 L138.7,86.7 L140.2,87.4 L141.6,88.0 L143.1,88.6 L144.6,89.2 L146.2,89.7 L147.8,90.3 L149.5,90.8 L151.3,91.3 L153.1,91.8 L155.1,92.3 L157.1,92.8 L159.1,93.2 L161.1,93.6 L163.2,94.0 L165.3,94.4 L167.3,94.7 L169.3,95.0 L171.3,95.3 L173.3,95.5 L175.3,95.7 L177.3,95.8 L179.3,96.0 L181.2,96.1 L183.2,96.2 L185.2,96.3 L187.2,96.4 L189.2,96.5 L191.2,96.6 L193.3,96.7 L195.4,96.9 L197.5,97.0 L199.7,97.1 L201.7,97.2 L203.7,97.3 L205.6,97.4 L207.4,97.4 L209.0,97.5 L210.4,97.6 L211.7,97.6 L212.8,97.6 L213.8,97.7 L214.8,97.7 L215.7,97.7 L216.7,97.7 L217.7,97.7 L218.8,97.6 L220.0,97.5 L221.3,97.4 L222.8,97.2 L224.3,97.1 L225.8,96.9 L227.4,96.6 L228.9,96.4 L230.5,96.1 L232.0,95.9 L233.5,95.6 L234.9,95.3 L236.3,95.0 L237.6,94.7 L238.9,94.3 L240.2,94.0 L241.4,93.6 L242.6,93.2 L243.8,92.8 L245.0,92.4 L246.2,92.0 L247.3,91.5 L248.4,91.0 L249.5,90.5 L250.5,90.0 L251.6,89.4 L252.6,88.9 L253.5,88.3 L254.5,87.7 L255.4,87.1 L256.3,86.4 L257.2,85.8 L258.1,85.1 L258.9,84.5 L259.7,83.8 L260.5,83.1 L261.3,82.4 L262.0,81.7 L262.7,81.0 L263.4,80.2 L264.1,79.3 L264.7,78.4 L265.3,77.4 L265.9,76.4 L266.5,75.4 L267.0,74.3 L267.6,73.1 L268.1,71.9 L268.5,70.8 L269.0,69.6 L269.3,68.4 L269.7,67.2 L270.0,66.0 L270.3,64.8 L270.5,63.6 L270.7,62.3 L270.8,61.1 L271.0,59.8 L271.1,58.6 L271.2,57.3 L271.3,56.0 L271.4,54.8 L271.5,53.5 L271.6,52.3 L271.7,51.0 L271.7,49.7 L271.8,48.4 L271.9,47.1 L271.9,45.9 L272.0,44.7 L272.0,43.5 L272.1,42.4 L272.2,41.3 L272.3,40.2 L272.4,39.1 L272.5,38.0 L272.5,37.0 L272.6,36.1 L272.7,35.2 L272.8,34.4 L272.9,33.7 L272.9,33.2" fill="none" stroke="#100010" stroke-width="0.9"/>
<path d="M76.5,116.4 L77.3,117.1 L78.4,118.1 L79.6,119.2 L81.1,120.5 L82.6,121.8 L84.1,123.2 L85.7,124.6 L87.2,125.8 L88.6,127.0 L89.9,128.0 L91.0,128.8 L92.1,129.6 L93.0,130.2 L94.0,130.8 L94.9,131.4 L95.8,131.9 L96.8,132.4 L97.7,133.0 L98.7,133.6 L99.8,134.2 L100.9,134.9 L102.1,135.6 L103.3,136.4 L104.5,137.1 L105.8,137.9 L107.0,138.6 L108.3,139.4 L109.6,140.2 L110.9,140.9 L112.2,141.7 L113.5,142.4 L114.7,143.2 L115.9,143.9 L117.2,144.6 L118.4,145.3 L119.7,146.0 L121.1,146.8 L122.6,147.5 L124.2,148.3 L125.3,148.8" fill="none" stroke="#100010" stroke-width="0.9"/>
<path d="M149.5,158.8 L151.3,159.5 L153.0,160.1 L154.6,160.8 L156.2,161.3 L157.8,161.9 L159.3,162.4 L160.8,162.9 L162.4,163.4 L163.9,163.9 L165.4,164.3 L167.1,164.7 L168.7,165.1 L170.3,165.5 L171.9,165.8 L173.5,166.1 L175.0,166.4 L176.4,166.7 L177.8,166.9 L178.9,167.1 L179.9,167.3 L180.6,167.5 L181.1,167.6 L181.5,167.8 L181.8,167.9 L182.1,168.0 L182.5,168.0 L182.8,168.0" fill="none" stroke="#100010" stroke-width="0.9"/>
<path d="M210.6,163.2 L212.0,162.8 L213.2,162.5 L214.2,162.2 L215.2,161.9 L216.1,161.6 L217.0,161.3 L217.9,161.1 L218.9,160.8 L220.0,160.5 L221.1,160.3 L222.0,160.1 L222.8,159.9 L223.5,159.8 L224.4,159.6 L225.4,159.4 L226.6,159.2 L228.2,158.8 L230.0,158.4 L232.4,157.8 L235.4,157.0 L239.0,156.1 L243.1,155.0 L244.5,154.7" fill="none" stroke="#100010" stroke-width="0.9"/>
<path d="M271.1,147.7 L273.8,146.9 L276.0,146.4 L277.9,145.9 L279.5,145.4 L280.8,145.1 L282.0,144.8 L283.1,144.5 L284.2,144.2 L285.3,143.9 L286.6,143.5 L287.9,143.1 L289.3,142.7 L290.7,142.4 L292.0,142.0 L293.4,141.6 L294.6,141.2 L295.9,140.8 L297.1,140.5 L298.2,140.1 L299.2,139.8 L300.1,139.5 L300.8,139.3 L301.3,139.2 L301.8,139.2 L302.2,139.1 L302.6,139.0 L303.0,138.8 L303.6,138.6 L304.4,138.2 L305.3,137.6 L305.7,137.4" fill="none" stroke="#100010" stroke-width="0.9"/>
<path d="M325.4,123.9 L326.1,123.4 L326.6,123.0 L327.1,122.7 L327.5,122.3 L328.0,121.9 L328.5,121.4 L329.1,120.8 L329.8,120.1 L330.5,119.4 L331.2,118.6 L331.9,117.8 L332.7,116.9 L333.4,116.0 L334.2,115.1 L334.9,114.2 L335.7,113.2 L336.5,112.2 L337.2,111.3 L337.9,110.3 L338.5,109.4 L339.2,108.6 L339.8,107.6 L340.5,106.6 L341.2,105.5 L342.0,104.3 L342.9,102.9 L343.9,101.3 L344.9,99.4" fill="none" stroke="#100010" stroke-width="0.9"/>
<path d="M354.5,81.9 L355.9,79.4 L357.1,77.2 L358.1,75.3 L359.0,73.7 L359.8,72.3 L360.4,71.0 L361.0,69.9 L361.6,68.9 L362.1,68.0 L362.6,67.1 L363.1,66.2 L363.6,65.3 L364.2,64.4 L364.6,63.6 L365.0,63.0 L365.3,62.4 L365.6,61.9 L365.9,61.4 L366.3,60.7 L366.9,60.0 L367.6,59.0 L368.6,57.8 L369.9,56.2 L370.4,55.6" fill="none" stroke="#100010" stroke-width="0.9"/>
<path d="M385.2,38.9 L387.3,36.5 L389.1,34.5 L390.4,33.0" fill="none" stroke="#100010" stroke-width="0.9"/>
<path d="M76.5,177.1 L77.0,177.4 L77.6,177.8 L78.3,178.3 L79.1,178.9 L79.9,179.5 L80.8,180.1 L81.8,180.7 L82.8,181.3 L83.9,181.9 L84.9,182.4 L86.0,182.9 L87.1,183.3 L88.2,183.7 L89.5,184.1 L90.7,184.5 L92.0,184.9 L93.3,185.3 L94.6,185.6 L95.9,186.0 L97.3,186.3 L98.7,186.6 L100.1,186.9 L101.6,187.2 L103.1,187.4 L104.6,187.7 L106.1,187.9 L107.7,188.1 L109.2,188.4 L110.7,188.6 L112.2,188.9 L113.7,189.2 L115.1,189.4 L116.6,189.7 L118.0,190.0 L119.5,190.3 L121.0,190.6 L122.4,190.9 L124.0,191.2 L125.5,191.5 L127.1,191.9 L128.7,192.3 L130.4,192.7 L132.1,193.1 L133.9,193.6 L135.6,194.1 L137.4,194.6 L139.2,195.0 L141.0,195.5 L142.7,196.0 L144.5,196.5 L146.3,197.0 L148.0,197.5 L149.8,198.0 L151.6,198.5 L153.4,199.0 L155.1,199.6 L156.9,200.1 L158.6,200.6 L160.3,201.0 L161.9,201.5 L163.5,202.0 L165.1,202.4 L166.6,202.9 L168.2,203.3 L169.7,203.7 L171.1,204.1 L172.6,204.5 L174.0,204.9 L175.4,205.2 L176.8,205.5 L178.1,205.8 L179.4,206.0 L180.7,206.2 L181.9,206.4 L183.2,206.6 L184.4,206.7 L185.6,206.8 L186.8,206.9 L188.0,207.0 L189.2,207.0 L190.4,207.0 L191.7,206.9 L192.9,206.9 L194.2,206.7 L195.4,206.6 L196.6,206.5 L197.9,206.3 L199.1,206.1 L200.4,205.9 L201.6,205.7 L202.9,205.5 L204.2,205.2 L205.5,205.0 L206.9,204.7 L208.2,204.4 L209.5,204.1 L210.8,203.8 L211.9,203.5 L213.0,203.2 L214.0,203.0 L214.8,202.8 L215.5,202.7 L216.1,202.6 L216.6,202.5 L217.0,202.4 L217.4,202.3 L217.9,202.2 L218.5,202.0 L219.2,201.8 L220.0,201.6 L221.0,201.3 L222.1,200.9 L223.2,200.6 L224.5,200.1 L225.8,199.7 L227.1,199.2 L228.5,198.8 L229.8,198.3 L231.1,197.9 L232.4,197.5 L233.6,197.1 L234.9,196.7 L236.1,196.4 L237.4,196.0 L238.6,195.7 L239.8,195.3 L241.1,194.9 L242.3,194.6 L243.6,194.2 L244.8,193.8 L246.0,193.4 L247.3,193.0 L248.5,192.6 L249.8,192.2 L251.0,191.8 L252.2,191.3 L253.5,190.9 L254.7,190.5 L256.0,190.0 L257.2,189.6 L258.4,189.2 L259.7,188.7 L260.9,188.3 L262.1,187.8 L263.3,187.4 L264.5,187.0 L265.8,186.5 L267.0,186.0 L268.4,185.6 L269.7,185.1 L271.1,184.6 L272.5,184.1 L274.0,183.6 L275.5,183.0 L277.0,182.5 L278.5,182.0 L280.1,181.5 L281.6,181.0 L283.1,180.5 L284.6,180.1 L286.1,179.7 L287.6,179.4 L289.1,179.0 L290.6,178.7 L292.1,178.4 L293.5,178.1 L295.0,177.8 L296.5,177.6 L298.0,177.3 L299.5,177.0 L301.0,176.7 L302.5,176.4 L304.0,176.2 L305.5,175.9 L306.9,175.6 L308.4,175.3 L309.9,175.1 L311.4,174.8 L312.9,174.5 L314.4,174.2 L315.9,173.9 L317.4,173.6 L318.9,173.3 L320.4,173.0 L321.8,172.8 L323.3,172.5 L324.8,172.1 L326.3,171.8 L327.8,171.4 L329.3,171.0 L330.8,170.6 L332.3,170.1 L333.8,169.5 L335.4,169.0 L336.9,168.4 L338.4,167.9 L339.9,167.3 L341.4,166.8 L342.8,166.2 L344.2,165.7 L345.5,165.2 L346.8,164.8 L348.1,164.4 L349.3,164.0 L350.5,163.5 L351.7,163.1 L352.9,162.7 L354.1,162.2 L355.3,161.6 L356.6,161.0 L357.9,160.3 L359.2,159.6 L360.6,158.8 L361.9,158.0 L363.3,157.1 L364.7,156.2 L366.0,155.3 L367.4,154.4 L368.7,153.4 L370.0,152.5 L371.3,151.5 L372.6,150.5 L373.9,149.5 L375.2,148.4 L376.5,147.4 L377.8,146.3 L379.0,145.2 L380.2,144.2 L381.3,143.2 L382.4,142.2 L383.4,141.2 L384.4,140.3 L385.4,139.4 L386.3,138.4 L387.2,137.5 L388.1,136.7 L388.9,135.8 L389.7,135.0 L390.4,134.2 L391.1,133.5 L391.8,132.8 L392.3,132.2 L392.9,131.7 L393.4,131.2 L393.8,130.7 L394.3,130.2 L394.7,129.8 L395.2,129.3 L395.6,128.8 L396.1,128.2 L396.6,127.6 L397.1,127.0 L397.5,126.4 L398.0,125.7 L398.5,125.1 L399.0,124.4 L399.4,123.7 L399.9,123.1 L400.5,122.4 L401.0,121.8 L401.6,121.2 L402.1,120.5 L402.6,119.9 L403.2,119.2 L403.8,118.6 L404.4,118.0 L405.0,117.4 L405.7,116.8 L406.4,116.2 L407.2,115.6 L408.0,115.1 L408.9,114.5 L409.8,114.1 L410.7,113.6 L411.7,113.1 L412.7,112.7 L413.7,112.2 L414.8,111.7 L416.0,111.2 L417.2,110.7 L418.5,110.2 L419.8,109.6 L421.2,109.1 L422.7,108.5 L424.2,108.0 L425.7,107.4 L427.3,106.8 L428.9,106.2 L430.5,105.6 L432.1,105.0 L433.8,104.4 L435.5,103.7 L437.2,103.1 L439.0,102.4 L440.8,101.7 L442.6,101.0 L444.4,100.3 L446.1,99.6 L447.9,99.0 L449.5,98.3 L451.1,97.7 L452.7,97.0 L454.2,96.4 L455.8,95.8 L457.3,95.2 L458.7,94.6 L460.2,94.0 L461.6,93.3 L463.0,92.7 L464.4,92.0 L465.8,91.3 L467.1,90.6 L468.5,89.9 L469.8,89.2 L471.1,88.5 L472.3,87.7 L473.5,87.0 L474.7,86.2 L475.8,85.4 L476.8,84.6 L477.8,83.8 L478.6,83.0 L479.5,82.1 L480.2,81.3 L481.0,80.4 L481.7,79.5 L482.3,78.6 L483.0,77.7 L483.6,76.8 L484.2,75.9 L484.8,75.0 L485.4,74.1 L485.9,73.1 L486.4,72.2 L486.9,71.3 L487.4,70.3 L487.9,69.3 L488.3,68.2 L488.8,67.1 L489.2,66.0 L489.6,64.8 L490.0,63.5 L490.4,62.1 L490.8,60.7 L491.2,59.3 L491.6,57.9 L491.9,56.4 L492.3,55.0 L492.6,53.6 L492.9,52.3 L493.2,51.0 L493.5,49.6 L493.7,48.3 L494.0,47.0 L494.2,45.7 L494.5,44.4 L494.7,43.2 L494.9,42.0 L495.2,40.9 L495.4,39.9 L495.7,39.0 L495.9,38.1 L496.2,37.2 L496.5,36.4 L496.8,35.7 L497.1,35.0 L497.3,34.4 L497.6,33.9 L497.8,33.4 L497.9,33.0" fill="none" stroke="#100010" stroke-width="0.9"/>
<path d="M76.5,206.2 L77.6,206.3 L79.0,206.5 L80.6,206.8 L82.4,207.0 L84.4,207.3 L86.5,207.5 L88.6,207.8 L90.7,208.1 L92.8,208.4 L94.8,208.7 L96.6,209.0 L98.3,209.2 L99.9,209.4 L101.5,209.6 L103.1,209.9 L104.9,210.1 L106.9,210.4 L109.1,210.8 L111.7,211.2 L114.7,211.7 L118.3,212.3 L122.5,213.0 L127.2,213.8 L132.2,214.7" fill="none" stroke="#100010" stroke-width="0.9"/>
<path d="M160.4,219.6 L162.9,220.0 L164.9,220.4 L166.6,220.6 L167.9,220.9 L169.1,221.1 L170.1,221.3 L171.1,221.4 L172.2,221.6 L173.4,221.8 L174.8,222.0 L176.2,222.2 L177.4,222.4 L178.7,222.6 L179.9,222.8 L181.2,223.0 L182.6,223.1 L184.1,223.3 L185.8,223.4 L187.7,223.5 L190.0,223.6 L192.6,223.7 L194.6,223.7" fill="none" stroke="#100010" stroke-width="0.9"/>
<path d="M223.4,223.5 L225.1,223.5 L226.6,223.4 L228.0,223.3 L229.3,223.3 L230.5,223.2 L231.8,223.1 L233.0,223.0 L234.4,222.9 L235.8,222.9 L237.1,222.8 L238.3,222.8 L239.4,222.8 L240.6,222.7 L241.8,222.7 L243.2,222.6 L244.8,222.5 L246.7,222.3 L249.0,222.0 L251.7,221.6 L255.0,221.2 L258.7,220.6" fill="none" stroke="#100010" stroke-width="0.9"/>
<path d="M287.0,216.2 L289.4,215.9 L291.4,215.6 L293.2,215.4 L294.7,215.3 L296.0,215.2 L297.2,215.1 L298.3,215.1 L299.4,215.0 L300.6,215.0 L301.9,214.9 L303.1,214.8 L304.2,214.8 L305.1,214.8 L305.9,214.8 L306.8,214.8 L307.8,214.8 L309.0,214.9 L310.4,214.9 L312.2,214.9 L314.4,214.9 L317.1,214.9 L320.4,214.9 L321.5,214.9" fill="none" stroke="#100010" stroke-width="0.9"/>
<path d="M350.4,214.9 L353.1,214.8 L355.5,214.7 L357.8,214.5 L359.9,214.4 L361.8,214.2 L363.6,214.0 L365.3,213.8 L367.0,213.6 L368.5,213.4 L370.0,213.2 L371.4,213.0 L372.6,212.8 L373.8,212.6 L374.8,212.4 L375.7,212.2 L376.6,212.1 L377.4,211.8 L378.3,211.6 L379.1,211.4 L379.9,211.2 L380.7,211.0 L381.3,210.9 L381.8,210.8 L382.3,210.7 L382.7,210.6 L383.3,210.4 L383.9,210.2 L384.7,209.8 L385.7,209.4 L387.0,208.7" fill="none" stroke="#100010" stroke-width="0.9"/>
<path d="M408.5,196.3 L410.0,195.3 L411.4,194.4 L412.6,193.5 L413.7,192.7 L414.8,191.9 L415.7,191.1 L416.7,190.3 L417.6,189.4 L418.6,188.6 L419.7,187.6 L420.8,186.6 L421.8,185.6 L422.7,184.6 L423.7,183.5 L424.6,182.5 L425.6,181.4 L426.7,180.2 L427.9,179.0 L429.3,177.7 L430.8,176.4 L432.5,174.9" fill="none" stroke="#100010" stroke-width="0.9"/>
<path d="M451.3,160.7 L453.0,159.6 L454.5,158.7 L455.9,157.9 L457.1,157.2 L458.3,156.7 L459.4,156.2 L460.6,155.7 L461.7,155.3 L462.8,154.8 L464.0,154.3 L465.2,153.7 L466.3,153.2 L467.2,152.8 L468.2,152.3 L469.1,151.9 L470.1,151.5 L471.3,151.0 L472.6,150.5 L474.2,149.9 L476.1,149.3 L478.4,148.6 L481.2,147.8 L482.2,147.5" fill="none" stroke="#100010" stroke-width="0.9"/>
<path d="M508.4,140.2 L510.0,139.8 L511.3,139.5 L512.3,139.3 L513.1,139.1 L513.7,139.0 L514.1,138.9 L514.5,138.8 L514.8,138.8 L515.1,138.7 L515.3,138.7" fill="none" stroke="#100010" stroke-width="0.9"/>
<path d="M76.5,220.4 L77.6,220.6 L79.0,220.8 L80.6,221.1 L82.4,221.4 L84.4,221.8 L86.5,222.2 L88.6,222.5 L90.7,222.9 L92.8,223.3 L94.8,223.6 L96.7,223.9 L98.7,224.2 L100.7,224.6 L102.8,224.9 L104.8,225.2 L106.9,225.5 L108.9,225.9 L110.9,226.2 L112.8,226.5 L114.7,226.8 L116.5,227.1 L118.2,227.4 L119.8,227.7 L121.4,227.9 L123.0,228.2 L124.7,228.5 L126.3,228.8 L128.1,229.1 L130.0,229.4 L132.0,229.8 L134.2,230.2 L136.5,230.6 L138.9,231.1 L141.4,231.6 L144.0,232.1 L146.6,232.6 L149.2,233.1 L151.8,233.6 L154.4,234.1 L156.9,234.5 L159.4,234.9 L161.9,235.4 L164.5,235.8 L167.1,236.2 L169.6,236.6 L172.1,237.0 L174.6,237.4 L177.1,237.7 L179.4,238.1 L181.7,238.4 L183.9,238.7 L186.0,239.0 L188.1,239.3 L190.1,239.6 L192.0,239.8 L194.0,240.1 L195.9,240.3 L197.8,240.5 L199.7,240.7 L201.6,240.9 L203.5,241.1 L205.4,241.2 L207.2,241.4 L209.0,241.5 L210.8,241.6 L212.6,241.7 L214.4,241.8 L216.2,241.9 L218.1,242.1 L220.0,242.2 L221.9,242.3 L223.9,242.5 L225.9,242.6 L227.9,242.8 L229.9,243.0 L231.9,243.1 L233.9,243.3 L235.9,243.5 L237.9,243.7 L239.9,243.9 L241.9,244.1 L243.9,244.4 L245.8,244.6 L247.8,244.9 L249.8,245.2 L251.8,245.5 L253.8,245.8 L255.7,246.1 L257.7,246.4 L259.7,246.7 L261.7,247.0 L263.7,247.4 L265.7,247.8 L267.7,248.2 L269.6,248.6 L271.6,249.0 L273.6,249.4 L275.6,249.7 L277.6,250.1 L279.6,250.5 L281.6,250.9 L283.6,251.2 L285.6,251.6 L287.6,252.0 L289.6,252.3 L291.5,252.7 L293.5,253.0 L295.5,253.4 L297.5,253.7 L299.5,254.0 L301.5,254.3 L303.4,254.6 L305.3,254.8 L307.2,255.1 L309.1,255.3 L311.0,255.5 L313.0,255.7 L315.0,255.9 L317.1,256.1 L319.3,256.3 L321.6,256.5 L324.1,256.6 L326.8,256.8 L329.5,256.9 L332.2,257.0 L334.9,257.1 L337.5,257.2 L339.9,257.3 L342.2,257.5 L344.2,257.6 L346.0,257.7 L347.5,257.9 L348.9,258.0 L350.2,258.1 L351.3,258.3 L352.4,258.4 L353.5,258.6 L354.6,258.7 L355.8,258.9 L357.0,259.0 L358.3,259.1 L359.6,259.3 L360.8,259.4 L362.1,259.6 L363.4,259.7 L364.7,259.8 L366.0,260.0 L367.3,260.1 L368.6,260.3 L370.0,260.5 L371.4,260.7 L372.9,260.9 L374.3,261.1 L375.8,261.4 L377.3,261.6 L378.8,261.8 L380.4,262.1 L381.9,262.3 L383.4,262.6 L384.9,262.8 L386.4,263.0 L387.9,263.3 L389.5,263.6 L391.0,263.9 L392.5,264.1 L394.0,264.4 L395.5,264.6 L397.0,264.9 L398.4,265.0 L399.8,265.2 L401.1,265.3 L402.4,265.4 L403.6,265.5 L404.9,265.6 L406.0,265.6 L407.2,265.7 L408.4,265.7 L409.6,265.6 L410.8,265.6 L412.0,265.5 L413.2,265.4 L414.4,265.2 L415.5,265.1 L416.7,264.9 L417.8,264.7 L419.0,264.4 L420.3,264.2 L421.6,263.9 L423.0,263.6 L424.6,263.3 L426.3,263.0 L428.2,262.6 L430.1,262.2 L432.2,261.8 L434.2,261.4 L436.4,261.0 L438.5,260.5 L440.6,260.1 L442.6,259.7 L444.5,259.4 L446.4,259.1 L448.2,258.8 L450.1,258.5 L451.9,258.2 L453.7,258.0 L455.4,257.7 L457.1,257.5 L458.8,257.2 L460.4,257.0 L461.9,256.7 L463.4,256.4 L464.8,256.1 L466.2,255.9 L467.6,255.6 L468.9,255.3 L470.1,255.0 L471.3,254.7 L472.4,254.4 L473.4,254.1 L474.3,253.8 L475.1,253.5 L475.8,253.2 L476.3,252.9 L476.8,252.5 L477.3,252.2 L477.6,251.9 L478.0,251.5 L478.3,251.2 L478.5,250.8 L478.8,250.4 L479.1,250.0 L479.3,249.6 L479.4,249.2 L479.6,248.8 L479.7,248.4 L479.8,248.0 L479.8,247.5 L479.8,247.0 L479.8,246.5 L479.8,245.9 L479.7,245.3 L479.6,244.6 L479.5,243.9 L479.3,243.1 L479.1,242.3 L478.9,241.5 L478.7,240.7 L478.4,239.9 L478.2,239.2 L478.0,238.4 L477.8,237.7 L477.5,236.9 L477.3,236.2 L477.0,235.5 L476.7,234.8 L476.5,234.0 L476.2,233.3 L476.0,232.6 L475.7,231.8 L475.5,231.0 L475.3,230.2 L475.1,229.4 L474.9,228.6 L474.7,227.7 L474.5,226.9 L474.4,226.0 L474.2,225.1 L474.1,224.2 L473.9,223.3 L473.8,222.4 L473.7,221.5 L473.5,220.5 L473.4,219.6 L473.3,218.6 L473.1,217.6 L473.0,216.6 L473.0,215.6 L472.9,214.6 L472.9,213.5 L473.0,212.4 L473.1,211.3 L473.2,210.1 L473.4,208.8 L473.6,207.6 L473.8,206.3 L474.1,205.0 L474.4,203.7 L474.7,202.4 L475.1,201.2 L475.5,200.0 L476.0,198.8 L476.4,197.6 L477.0,196.5 L477.5,195.3 L478.1,194.2 L478.8,193.0 L479.4,191.9 L480.2,190.9 L480.9,189.8 L481.7,188.8 L482.5,187.8 L483.4,186.9 L484.3,186.0 L485.3,185.1 L486.3,184.2 L487.3,183.4 L488.4,182.5 L489.5,181.7 L490.6,180.9 L491.7,180.1 L492.8,179.3 L494.0,178.5 L495.3,177.7 L496.5,176.9 L497.8,176.1 L499.1,175.4 L500.4,174.6 L501.7,174.0 L502.9,173.4 L504.1,172.8 L505.3,172.3 L506.6,171.9 L507.9,171.5 L509.2,171.1 L510.5,170.8 L511.7,170.5 L512.8,170.3 L513.8,170.1 L514.6,169.9 L515.3,169.7" fill="none" stroke="#100010" stroke-width="0.9"/>
<path d="M76.5,234.0 L78.9,234.4 L82.2,235.0 L86.2,235.7 L87.6,235.9" fill="none" stroke="#100010" stroke-width="0.9"/>
<path d="M115.9,240.9 L118.3,241.3 L120.1,241.7 L121.5,241.9 L122.5,242.1 L123.5,242.3 L124.4,242.5 L125.6,242.7 L127.2,243.0 L129.2,243.4 L132.0,243.9 L135.6,244.5 L139.9,245.3 L144.8,246.1 L150.0,247.0" fill="none" stroke="#100010" stroke-width="0.9"/>
<path d="M178.1,251.9 L181.4,252.4 L183.9,252.9 L185.9,253.2 L187.6,253.5 L189.0,253.7 L190.4,253.9 L191.8,254.1 L193.4,254.4 L195.5,254.7 L198.1,255.1 L201.4,255.7 L205.3,256.3 L209.7,257.1 L212.8,257.6" fill="none" stroke="#100010" stroke-width="0.9"/>
<path d="M241.3,262.6 L244.1,263.2 L246.4,263.6 L248.4,264.1 L249.9,264.5 L251.3,264.8 L252.4,265.2 L253.5,265.5 L254.5,265.8 L255.6,266.1 L256.8,266.5 L258.1,266.8 L259.2,267.1 L260.2,267.4 L261.1,267.7 L262.0,267.9 L263.0,268.2 L264.2,268.6 L265.5,269.0 L267.1,269.5 L269.0,270.1 L271.3,270.8 L274.1,271.8 L275.1,272.1" fill="none" stroke="#100010" stroke-width="0.9"/>
<path d="M301.0,280.5 L303.5,281.0 L305.6,281.2 L307.5,281.3 L309.3,281.3 L310.9,281.1 L312.4,280.9 L313.9,280.7 L315.4,280.5 L317.0,280.3 L318.7,280.2 L320.5,280.2 L322.2,280.2 L323.9,280.1 L325.5,280.1 L327.1,280.0 L328.9,280.0 L330.8,280.1 L333.0,280.2 L335.4,280.3 L338.2,280.6 L341.4,281.0 L345.2,281.4 L349.6,282.0 L354.2,282.7" fill="none" stroke="#100010" stroke-width="0.9"/>
<path d="M382.1,287.1 L384.4,287.5 L386.3,287.9 L387.9,288.2 L389.1,288.5 L390.2,288.8 L391.1,289.1 L392.0,289.3 L392.9,289.6 L394.0,289.8 L395.2,290.0 L396.3,290.1 L397.3,290.3 L398.1,290.4 L398.9,290.5 L399.8,290.6 L400.9,290.6 L402.1,290.7 L403.7,290.7 L405.7,290.6 L408.1,290.6 L411.1,290.5 L414.6,290.3 L415.9,290.2" fill="none" stroke="#100010" stroke-width="0.9"/>
<path d="M445.4,288.6 L447.8,288.5 L450.0,288.4 L451.9,288.4 L453.6,288.4 L455.1,288.4 L456.6,288.4 L458.0,288.4 L459.4,288.5 L460.9,288.5 L462.4,288.6 L463.9,288.8 L465.2,288.9 L466.4,289.1 L467.6,289.3 L468.8,289.5 L470.2,289.7 L471.7,289.9 L473.3,290.2 L475.3,290.4 L477.6,290.7 L480.4,291.0" fill="none" stroke="#100010" stroke-width="0.9"/>
<path d="M509.0,293.6 L510.7,293.7 L512.0,293.8 L513.0,293.9 L513.7,293.9 L514.2,293.9 L514.5,293.9 L514.7,293.8 L514.9,293.8 L515.0,293.8 L515.3,293.8" fill="none" stroke="#100010" stroke-width="0.9"/>
<path d="M76.5,247.1 L77.6,247.2 L78.9,247.4 L80.4,247.6 L82.2,247.8 L84.1,248.1 L86.1,248.4 L88.2,248.6 L90.4,249.0 L92.6,249.3 L94.8,249.6 L97.0,249.9 L99.4,250.3 L101.8,250.7 L104.3,251.1 L106.8,251.5 L109.4,252.0 L112.0,252.4 L114.6,252.9 L117.2,253.3 L119.7,253.8 L122.2,254.3 L124.7,254.7 L127.1,255.2 L129.6,255.7 L132.1,256.2 L134.6,256.7 L137.1,257.2 L139.5,257.7 L142.0,258.3 L144.5,258.8 L147.0,259.3 L149.5,259.9 L151.9,260.5 L154.4,261.1 L156.9,261.7 L159.4,262.3 L161.9,262.8 L164.3,263.4 L166.8,264.0 L169.3,264.5 L171.8,265.0 L174.3,265.5 L176.7,266.0 L179.2,266.5 L181.7,267.0 L184.2,267.4 L186.7,267.9 L189.2,268.3 L191.7,268.8 L194.2,269.2 L196.8,269.6 L199.5,270.1 L202.2,270.5 L205.0,271.0 L207.7,271.4 L210.4,271.8 L213.0,272.2 L215.5,272.6 L217.9,273.0 L220.0,273.3 L221.9,273.6 L223.6,273.9 L225.2,274.1 L226.6,274.4 L228.0,274.6 L229.3,274.8 L230.6,275.0 L231.9,275.3 L233.4,275.5 L234.9,275.8 L236.5,276.1 L238.2,276.4 L239.9,276.7 L241.7,277.0 L243.4,277.3 L245.2,277.7 L247.0,278.0 L248.8,278.4 L250.5,278.8 L252.3,279.2 L254.1,279.7 L255.8,280.1 L257.6,280.7 L259.4,281.2 L261.2,281.7 L262.9,282.3 L264.7,282.8 L266.4,283.4 L268.1,283.9 L269.7,284.4 L271.3,284.9 L272.8,285.3 L274.4,285.8 L275.8,286.2 L277.3,286.7 L278.8,287.1 L280.2,287.5 L281.7,288.0 L283.1,288.4 L284.6,288.8 L286.1,289.2 L287.5,289.6 L288.9,290.0 L290.3,290.5 L291.7,290.9 L293.2,291.3 L294.7,291.6 L296.2,292.0 L297.8,292.4 L299.5,292.7 L301.3,293.0 L303.1,293.3 L305.1,293.6 L307.1,293.9 L309.1,294.1 L311.1,294.4 L313.2,294.7 L315.3,294.9 L317.3,295.2 L319.3,295.4 L321.3,295.6 L323.3,295.9 L325.3,296.1 L327.4,296.3 L329.4,296.6 L331.4,296.8 L333.4,297.0 L335.4,297.2 L337.3,297.5 L339.2,297.7 L341.1,297.9 L342.9,298.2 L344.7,298.4 L346.5,298.7 L348.3,298.9 L350.0,299.1 L351.8,299.4 L353.4,299.6 L355.0,299.8 L356.6,300.0 L358.1,300.2 L359.4,300.3 L360.7,300.5 L361.9,300.6 L363.1,300.7 L364.4,300.8 L365.6,301.0 L367.0,301.1 L368.4,301.3 L370.0,301.5 L371.7,301.7 L373.6,302.0 L375.5,302.3 L377.5,302.6 L379.6,302.9 L381.6,303.2 L383.7,303.5 L385.8,303.8 L387.9,304.1 L389.9,304.3 L391.9,304.5 L393.8,304.7 L395.8,304.8 L397.7,304.9 L399.6,305.0 L401.6,305.1 L403.6,305.2 L405.6,305.3 L407.6,305.4 L409.7,305.5 L411.8,305.6 L414.0,305.7 L416.2,305.7 L418.4,305.8 L420.6,305.9 L422.8,305.9 L425.1,305.9 L427.4,306.0 L429.8,306.0 L432.1,306.0 L434.5,306.0 L436.9,306.0 L439.4,305.9 L441.8,305.9 L444.4,305.8 L446.9,305.8 L449.4,305.7 L451.9,305.7 L454.4,305.6 L456.9,305.6 L459.4,305.6 L461.9,305.6 L464.5,305.6 L467.1,305.6 L469.6,305.6 L472.1,305.6 L474.6,305.5 L477.1,305.5 L479.4,305.5 L481.7,305.5 L483.9,305.5 L486.1,305.4 L488.2,305.4 L490.3,305.3 L492.3,305.2 L494.3,305.2 L496.2,305.1 L498.1,305.1 L499.9,305.0 L501.6,305.0 L503.3,305.0 L505.0,305.0 L506.6,305.0 L508.2,305.1 L509.7,305.1 L511.1,305.2 L512.4,305.2 L513.5,305.2 L514.5,305.3 L515.3,305.3" fill="none" stroke="#100010" stroke-width="0.9"/>
<path d="M76.5,259.6 L77.2,259.7 L77.9,259.7 L78.7,259.8 L79.6,259.9 L80.7,260.0 L82.0,260.1 L83.5,260.3 L85.3,260.6 L87.4,260.9 L89.9,261.3 L92.9,261.8 L96.5,262.5 L100.5,263.2" fill="none" stroke="#100010" stroke-width="0.9"/>
<path d="M128.6,268.5 L131.5,269.1 L133.8,269.6 L135.7,270.0 L137.4,270.4 L138.9,270.8 L140.4,271.1 L141.9,271.5 L143.7,271.9 L145.9,272.4 L148.5,273.0 L151.7,273.7 L155.6,274.4 L159.9,275.3 L162.9,275.9" fill="none" stroke="#100010" stroke-width="0.9"/>
<path d="M190.7,281.4 L193.5,281.9 L195.8,282.3 L197.7,282.7 L199.2,282.9 L200.6,283.1 L201.7,283.3 L202.8,283.4 L203.8,283.6 L204.9,283.7 L206.1,283.9 L207.5,284.2 L208.7,284.4 L209.8,284.5 L210.8,284.7 L211.8,284.9 L212.9,285.1 L214.1,285.3 L215.5,285.6 L217.2,285.9 L219.2,286.3 L221.7,286.8 L224.6,287.5 L225.7,287.7" fill="none" stroke="#100010" stroke-width="0.9"/>
<path d="M253.5,293.6 L255.7,294.1 L257.4,294.5 L258.7,294.8 L259.8,295.1 L260.8,295.4 L261.9,295.7 L263.2,296.1 L264.8,296.5 L267.0,297.0 L269.7,297.6 L273.2,298.4 L277.5,299.3 L282.2,300.4 L287.4,301.5" fill="none" stroke="#100010" stroke-width="0.9"/>
<path d="M315.6,307.5 L318.3,308.0 L320.2,308.4 L321.6,308.7 L322.6,308.8 L323.5,308.9 L324.4,309.0 L325.4,309.2 L326.9,309.3 L328.9,309.6 L331.7,310.0 L335.4,310.5 L339.8,311.2 L344.9,311.9 L350.3,312.7" fill="none" stroke="#100010" stroke-width="0.9"/>
<path d="M378.9,316.8 L382.0,317.2 L384.4,317.5 L386.4,317.7 L388.0,317.9 L389.3,318.0 L390.3,318.1 L391.3,318.2 L392.2,318.3 L393.2,318.3 L394.4,318.5 L395.6,318.6 L396.7,318.8 L397.7,318.9 L398.5,319.1 L399.4,319.2 L400.3,319.4 L401.4,319.5 L402.7,319.6 L404.4,319.7 L406.4,319.8 L409.0,319.8 L412.0,319.9 L415.6,319.9" fill="none" stroke="#100010" stroke-width="0.9"/>
<path d="M444.2,319.6 L446.7,319.6 L448.9,319.5 L450.9,319.5 L452.8,319.4 L454.5,319.4 L456.1,319.3 L457.7,319.3 L459.2,319.3 L460.8,319.2 L462.4,319.2 L463.9,319.2 L465.3,319.2 L466.5,319.2 L467.8,319.1 L469.0,319.1 L470.3,319.1 L471.8,319.1 L473.4,319.1 L475.3,319.0 L477.6,319.0 L480.3,318.9" fill="none" stroke="#100010" stroke-width="0.9"/>
<path d="M509.0,317.9 L510.5,317.8 L511.7,317.8 L512.6,317.7 L513.3,317.7 L513.8,317.7 L514.2,317.6 L514.6,317.6 L514.9,317.6 L515.2,317.6 L515.3,317.6" fill="none" stroke="#100010" stroke-width="0.9"/>
<path d="M76.5,271.2 L77.6,271.4 L78.9,271.6 L80.4,271.9 L82.2,272.2 L84.1,272.6 L86.1,273.0 L88.2,273.3 L90.4,273.7 L92.6,274.1 L94.8,274.5 L97.0,274.9 L99.4,275.3 L101.8,275.7 L104.3,276.1 L106.8,276.5 L109.4,276.9 L112.0,277.4 L114.6,277.8 L117.2,278.2 L119.7,278.7 L122.2,279.2 L124.7,279.6 L127.1,280.1 L129.6,280.6 L132.1,281.1 L134.6,281.6 L137.1,282.1 L139.5,282.6 L142.0,283.1 L144.5,283.6 L147.0,284.1 L149.5,284.6 L151.9,285.1 L154.4,285.6 L156.9,286.1 L159.4,286.6 L161.9,287.1 L164.3,287.6 L166.8,288.1 L169.3,288.6 L171.8,289.1 L174.3,289.6 L176.7,290.0 L179.2,290.5 L181.7,291.0 L184.2,291.5 L186.7,291.9 L189.2,292.4 L191.7,292.9 L194.2,293.3 L196.8,293.7 L199.4,294.2 L202.1,294.6 L204.7,295.0 L207.4,295.4 L210.1,295.8 L212.7,296.2 L215.2,296.7 L217.7,297.1 L220.0,297.5 L222.2,297.9 L224.4,298.3 L226.4,298.8 L228.4,299.2 L230.3,299.6 L232.2,300.0 L234.1,300.5 L236.0,300.9 L237.9,301.3 L239.9,301.8 L241.9,302.3 L243.8,302.7 L245.8,303.2 L247.7,303.7 L249.6,304.2 L251.6,304.7 L253.6,305.2 L255.6,305.7 L257.6,306.3 L259.7,306.8 L261.8,307.4 L264.0,307.9 L266.2,308.5 L268.4,309.1 L270.6,309.7 L272.8,310.3 L275.1,310.9 L277.4,311.5 L279.8,312.1 L282.1,312.6 L284.5,313.1 L286.9,313.6 L289.4,314.1 L291.8,314.6 L294.4,315.0 L296.9,315.5 L299.4,315.9 L301.9,316.4 L304.4,316.8 L306.9,317.3 L309.4,317.8 L311.9,318.2 L314.3,318.7 L316.8,319.2 L319.3,319.6 L321.8,320.1 L324.3,320.5 L326.7,321.0 L329.2,321.5 L331.7,322.0 L334.2,322.5 L336.9,323.1 L339.5,323.6 L342.2,324.2 L344.9,324.8 L347.5,325.4 L350.0,325.9 L352.4,326.4 L354.6,326.9 L356.6,327.3 L358.4,327.6 L360.0,327.9 L361.4,328.1 L362.7,328.3 L363.9,328.5 L365.1,328.6 L366.2,328.8 L367.4,328.9 L368.7,329.1 L370.0,329.3 L371.4,329.5 L372.8,329.8 L374.3,330.0 L375.7,330.3 L377.2,330.6 L378.7,330.8 L380.2,331.1 L381.7,331.3 L383.3,331.6 L384.9,331.8 L386.5,332.0 L388.2,332.3 L389.9,332.5 L391.7,332.7 L393.4,332.9 L395.2,333.1 L397.0,333.3 L398.8,333.5 L400.5,333.7 L402.3,333.8 L404.0,333.9 L405.7,334.0 L407.3,334.1 L408.9,334.1 L410.5,334.2 L412.2,334.2 L413.9,334.3 L415.7,334.3 L417.7,334.3 L419.7,334.3 L421.9,334.3 L424.2,334.3 L426.6,334.3 L429.1,334.3 L431.6,334.3 L434.2,334.3 L436.8,334.2 L439.4,334.2 L442.0,334.1 L444.5,334.0 L447.0,333.9 L449.5,333.8 L451.9,333.6 L454.4,333.4 L456.9,333.3 L459.4,333.1 L461.9,332.9 L464.3,332.7 L466.8,332.5 L469.3,332.3 L471.8,332.1 L474.3,331.9 L476.9,331.7 L479.4,331.5 L482.0,331.3 L484.5,331.1 L487.0,330.9 L489.5,330.7 L491.9,330.5 L494.2,330.3 L496.6,330.1 L499.0,329.9 L501.5,329.7 L503.9,329.5 L506.3,329.3 L508.6,329.1 L510.6,329.0 L512.5,328.8 L514.1,328.7 L515.3,328.6" fill="none" stroke="#100010" stroke-width="0.9"/>
<path d="M76.5,284.4 L77.2,284.5 L77.9,284.7 L78.6,284.8 L79.5,285.0 L80.6,285.2 L81.8,285.5 L83.3,285.8 L85.2,286.1 L87.3,286.5 L89.9,286.9 L93.1,287.4 L96.9,288.0 L101.2,288.7 L102.8,289.0" fill="none" stroke="#100010" stroke-width="0.9"/>
<path d="M131.1,293.4 L133.9,293.9 L136.1,294.3 L137.8,294.6 L139.1,294.8 L140.3,295.1 L141.4,295.3 L142.6,295.5 L144.1,295.8 L146.0,296.2 L148.5,296.6 L151.8,297.2 L155.7,297.9 L160.3,298.6 L165.2,299.5 L166.9,299.7" fill="none" stroke="#100010" stroke-width="0.9"/>
<path d="M194.2,304.3 L196.8,304.7 L198.8,305.1 L200.4,305.3 L201.6,305.5 L202.6,305.7 L203.4,305.8 L204.2,305.9 L204.9,306.0 L205.9,306.2 L207.0,306.4 L208.2,306.6 L209.2,306.8 L210.2,307.0 L211.1,307.1 L212.1,307.3 L213.1,307.6 L214.4,307.8 L215.9,308.1 L217.8,308.5 L220.0,309.0 L222.7,309.6 L226.0,310.3 L228.4,310.8" fill="none" stroke="#100010" stroke-width="0.9"/>
<path d="M256.0,316.9 L258.6,317.5 L260.9,318.0 L262.9,318.5 L264.8,318.9 L266.5,319.3 L268.1,319.7 L269.7,320.1 L271.3,320.5 L272.9,320.9 L274.6,321.3 L276.3,321.7 L278.0,322.1 L279.5,322.5 L281.1,322.9 L282.6,323.3 L284.2,323.7 L285.9,324.1 L287.6,324.5 L289.5,325.0 L290.9,325.3" fill="none" stroke="#100010" stroke-width="0.9"/>
<path d="M317.4,331.5 L319.5,332.0 L321.4,332.5 L323.1,332.9 L324.8,333.2 L326.3,333.6 L327.8,333.9 L329.2,334.2 L330.7,334.5 L332.1,334.9 L333.7,335.2 L335.2,335.5 L336.7,335.8 L338.1,336.1 L339.5,336.4 L340.8,336.7 L342.3,337.0 L343.8,337.3 L345.4,337.7 L347.2,338.1 L349.3,338.5 L351.6,339.1 L353.3,339.4" fill="none" stroke="#100010" stroke-width="0.9"/>
<path d="M380.1,345.5 L382.1,345.8 L383.9,346.1 L385.6,346.3 L387.1,346.5 L388.6,346.6 L390.0,346.8 L391.4,346.9 L392.8,347.0 L394.3,347.1 L395.8,347.3 L397.1,347.5 L398.3,347.6 L399.5,347.8 L400.7,347.9 L401.9,348.1 L403.3,348.2 L404.9,348.3 L406.7,348.3 L408.9,348.4 L411.5,348.4 L414.5,348.4 L416.8,348.4" fill="none" stroke="#100010" stroke-width="0.9"/>
<path d="M445.4,347.7 L447.7,347.6 L449.8,347.4 L451.7,347.3 L453.4,347.2 L455.0,347.1 L456.4,346.9 L457.9,346.8 L459.3,346.6 L460.8,346.5 L462.4,346.4 L463.9,346.2 L465.2,346.1 L466.5,345.9 L467.7,345.8 L468.9,345.6 L470.3,345.5 L471.7,345.3 L473.4,345.1 L475.3,344.9 L477.6,344.6 L480.3,344.3" fill="none" stroke="#100010" stroke-width="0.9"/>
<path d="M509.0,340.8 L510.5,340.6 L511.7,340.4 L512.6,340.3 L513.3,340.2 L513.8,340.0 L514.2,339.9 L514.6,339.9 L514.9,339.8 L515.2,339.7 L515.3,339.7" fill="none" stroke="#100010" stroke-width="0.9"/>
<path d="M76.5,300.4 L77.6,300.5 L78.9,300.5 L80.4,300.6 L82.2,300.7 L84.1,300.9 L86.1,301.0 L88.2,301.1 L90.4,301.3 L92.6,301.5 L94.8,301.7 L97.0,301.9 L99.4,302.2 L101.8,302.5 L104.3,302.8 L106.8,303.1 L109.4,303.5 L112.0,303.8 L114.6,304.1 L117.2,304.5 L119.7,304.8 L122.2,305.1 L124.7,305.4 L127.1,305.8 L129.6,306.1 L132.1,306.4 L134.6,306.8 L137.1,307.1 L139.5,307.4 L142.0,307.8 L144.5,308.1 L147.0,308.4 L149.5,308.7 L151.9,309.1 L154.4,309.4 L156.9,309.7 L159.4,310.0 L161.9,310.4 L164.3,310.7 L166.8,311.0 L169.3,311.3 L171.8,311.6 L174.3,311.9 L176.7,312.2 L179.2,312.5 L181.7,312.7 L184.2,313.0 L186.7,313.3 L189.2,313.7 L191.7,314.0 L194.2,314.4 L196.8,314.8 L199.4,315.3 L202.1,315.8 L204.7,316.3 L207.4,316.9 L210.1,317.4 L212.7,318.0 L215.2,318.5 L217.7,319.0 L220.0,319.5 L222.2,320.0 L224.4,320.4 L226.4,320.9 L228.4,321.3 L230.3,321.7 L232.2,322.2 L234.1,322.6 L236.0,323.0 L237.9,323.5 L239.9,324.0 L241.9,324.5 L243.9,325.0 L245.8,325.6 L247.8,326.2 L249.8,326.7 L251.8,327.3 L253.8,327.9 L255.7,328.4 L257.7,329.0 L259.7,329.5 L261.7,330.0 L263.7,330.5 L265.7,331.0 L267.7,331.4 L269.6,331.9 L271.6,332.4 L273.6,332.8 L275.6,333.3 L277.6,333.7 L279.6,334.2 L281.6,334.7 L283.6,335.1 L285.6,335.6 L287.6,336.0 L289.6,336.5 L291.5,336.9 L293.5,337.4 L295.5,337.8 L297.5,338.3 L299.5,338.8 L301.5,339.3 L303.5,339.8 L305.5,340.3 L307.6,340.9 L309.6,341.4 L311.6,341.9 L313.6,342.5 L315.5,343.0 L317.4,343.5 L319.3,344.0 L321.1,344.5 L322.9,345.0 L324.6,345.5 L326.3,346.0 L328.0,346.5 L329.7,347.0 L331.3,347.4 L332.9,347.9 L334.5,348.4 L336.0,348.8 L337.5,349.2 L338.9,349.7 L340.3,350.1 L341.7,350.5 L343.0,350.9 L344.3,351.2 L345.7,351.6 L347.1,352.0 L348.5,352.4 L350.0,352.8 L351.6,353.2 L353.2,353.6 L354.9,354.0 L356.6,354.5 L358.3,354.9 L360.0,355.3 L361.7,355.7 L363.4,356.1 L365.0,356.4 L366.5,356.8 L368.0,357.1 L369.3,357.5 L370.7,357.8 L372.0,358.1 L373.3,358.3 L374.6,358.6 L375.8,358.9 L377.1,359.2 L378.4,359.4 L379.7,359.7 L381.0,360.0 L382.4,360.3 L383.8,360.5 L385.2,360.8 L386.6,361.1 L387.9,361.4 L389.3,361.6 L390.6,361.9 L391.8,362.1 L393.0,362.3 L394.1,362.5 L395.3,362.7 L396.4,362.8 L397.5,363.0 L398.6,363.1 L399.6,363.2 L400.5,363.3 L401.3,363.4 L402.0,363.5 L402.5,363.6" fill="none" stroke="#100010" stroke-width="0.9"/>
<path d="M447.8,363.6 L448.8,363.5 L450.0,363.4 L451.5,363.2 L453.2,363.0 L455.0,362.9 L456.9,362.6 L458.8,362.4 L460.8,362.2 L462.6,361.9 L464.4,361.6 L466.1,361.3 L467.8,360.9 L469.5,360.6 L471.3,360.2 L473.0,359.7 L474.7,359.3 L476.5,358.9 L478.2,358.4 L480.0,358.0 L481.7,357.6 L483.4,357.2 L485.2,356.7 L487.0,356.3 L488.7,355.8 L490.5,355.4 L492.2,354.9 L494.0,354.5 L495.7,354.1 L497.4,353.7 L499.1,353.4 L500.8,353.1 L502.7,352.8 L504.6,352.6 L506.4,352.3 L508.3,352.1 L510.0,352.0 L511.7,351.8 L513.1,351.6 L514.3,351.5 L515.3,351.4" fill="none" stroke="#100010" stroke-width="0.9"/>
<path d="M76.5,316.9 L77.5,316.9 L78.6,316.9 L79.9,316.8 L81.4,316.8 L83.1,316.8 L85.0,316.7 L87.1,316.7 L89.4,316.8 L92.0,316.8 L94.8,316.9 L98.1,317.0 L101.9,317.2 L106.2,317.4" fill="none" stroke="#100010" stroke-width="0.9"/>
<path d="M136.0,319.1 L138.6,319.3 L140.7,319.4 L142.4,319.4 L143.7,319.5 L145.0,319.6 L146.2,319.7 L147.7,319.8 L149.4,320.0 L151.6,320.2 L154.4,320.5 L157.9,320.9 L162.0,321.4 L166.6,322.0 L171.5,322.6" fill="none" stroke="#100010" stroke-width="0.9"/>
<path d="M199.1,326.3 L202.2,326.8 L204.9,327.3 L207.4,327.7 L209.6,328.2 L211.6,328.6 L213.4,329.0 L215.1,329.4 L216.7,329.8 L218.4,330.1 L220.0,330.5 L221.5,330.8 L222.8,331.1 L223.8,331.3 L224.8,331.5 L225.7,331.8 L226.7,332.0 L227.8,332.3 L229.0,332.6 L230.5,333.0 L232.4,333.5 L234.7,334.1" fill="none" stroke="#100010" stroke-width="0.9"/>
<path d="M261.0,341.6 L263.1,342.2 L265.0,342.6 L266.8,343.1 L268.4,343.4 L269.9,343.8 L271.3,344.1 L272.8,344.4 L274.2,344.7 L275.6,345.1 L277.1,345.4 L278.6,345.7 L279.9,346.0 L281.2,346.3 L282.4,346.5 L283.7,346.8 L285.0,347.0 L286.5,347.4 L288.1,347.7 L289.9,348.2 L292.0,348.8 L294.4,349.5 L295.4,349.8" fill="none" stroke="#100010" stroke-width="0.9"/>
<path d="M321.0,357.9 L323.2,358.7 L325.2,359.4 L327.0,360.1 L328.6,360.7 L330.1,361.3 L331.4,361.8 L332.5,362.3 L333.6,362.8 L334.5,363.2 L335.3,363.5 L335.5,363.6" fill="none" stroke="#100010" stroke-width="0.9"/>
<path d="M76.5,332.8 L77.6,332.8 L78.9,332.7 L80.4,332.6 L82.2,332.6 L84.1,332.5 L86.1,332.4 L88.2,332.3 L90.4,332.2 L92.6,332.2 L94.8,332.1 L97.0,332.0 L99.4,332.0 L101.8,332.0 L104.3,331.9 L106.8,331.9 L109.4,331.8 L112.0,331.8 L114.6,331.8 L117.2,331.7 L119.7,331.7 L122.2,331.7 L124.7,331.6 L127.1,331.6 L129.6,331.6 L132.1,331.5 L134.6,331.5 L137.1,331.5 L139.5,331.5 L142.0,331.5 L144.5,331.5 L147.0,331.5 L149.6,331.6 L152.2,331.6 L154.8,331.7 L157.4,331.8 L159.9,331.9 L162.4,332.0 L164.8,332.1 L167.1,332.2 L169.3,332.3 L171.3,332.4 L173.3,332.6 L175.1,332.7 L176.8,332.8 L178.5,333.0 L180.1,333.2 L181.7,333.3 L183.3,333.5 L185.0,333.8 L186.7,334.0 L188.4,334.3 L190.2,334.5 L192.0,334.8 L193.7,335.2 L195.5,335.5 L197.2,335.8 L199.0,336.2 L200.7,336.6 L202.4,336.9 L204.1,337.3 L205.8,337.7 L207.4,338.1 L209.0,338.5 L210.6,338.9 L212.2,339.4 L213.8,339.8 L215.4,340.3 L216.9,340.7 L218.5,341.2 L220.0,341.6 L221.5,342.0 L223.0,342.5 L224.5,342.9 L225.9,343.3 L227.4,343.8 L228.8,344.2 L230.3,344.7 L231.8,345.2 L233.3,345.7 L234.9,346.2 L236.5,346.8 L238.2,347.4 L239.9,348.0 L241.7,348.6 L243.4,349.3 L245.2,349.9 L247.0,350.6 L248.8,351.2 L250.5,351.8 L252.3,352.3 L254.1,352.8 L255.8,353.3 L257.6,353.7 L259.4,354.2 L261.2,354.6 L262.9,355.0 L264.7,355.4 L266.4,355.8 L268.1,356.2 L269.7,356.6 L271.3,357.0 L272.9,357.4 L274.4,357.7 L276.0,358.1 L277.5,358.5 L279.0,358.8 L280.4,359.2 L281.9,359.5 L283.2,359.9 L284.6,360.2 L286.0,360.6 L287.4,360.9 L288.8,361.3 L290.1,361.7 L291.5,362.1 L292.7,362.5 L293.9,362.8 L294.9,363.1 L295.8,363.4 L296.5,363.6" fill="none" stroke="#100010" stroke-width="0.9"/>
<path d="M76.5,350.9 L77.3,350.8 L78.3,350.6 L79.4,350.4 L80.7,350.2 L82.1,350.0 L83.6,349.8 L85.2,349.5 L86.8,349.3 L88.3,349.1 L89.9,348.9 L91.5,348.7 L93.1,348.5 L94.7,348.4 L96.4,348.2 L98.1,348.0 L99.9,347.8 L101.7,347.7 L103.5,347.5 L105.3,347.4 L107.2,347.2 L109.0,347.1 L110.7,346.9 L112.3,346.8 L114.0,346.7 L115.7,346.5 L117.5,346.4 L119.5,346.3 L121.7,346.2 L124.2,346.0 L127.1,345.9 L130.5,345.7 L134.4,345.5 L138.7,345.3 L140.2,345.3" fill="none" stroke="#100010" stroke-width="0.9"/>
<path d="M169.0,344.2 L171.3,344.2 L173.2,344.2 L174.7,344.3 L176.0,344.4 L177.0,344.5 L178.0,344.6 L178.9,344.8 L179.8,344.9 L180.9,345.1 L182.1,345.3 L183.4,345.5 L184.7,345.7 L186.0,345.9 L187.3,346.2 L188.6,346.5 L189.8,346.7 L191.0,347.0 L192.3,347.3 L193.4,347.5 L194.6,347.8 L195.6,348.0 L196.5,348.1 L197.3,348.2 L198.1,348.3 L198.9,348.5 L199.8,348.6 L200.8,348.8 L202.0,349.1 L203.5,349.5 L204.6,349.8" fill="none" stroke="#100010" stroke-width="0.9"/>
<path d="M230.3,357.7 L231.7,358.2 L232.8,358.6 L233.7,358.9 L234.4,359.3 L235.0,359.5 L235.5,359.8 L235.9,360.1 L236.4,360.3 L237.0,360.6 L237.6,360.9 L238.3,361.2 L239.1,361.5 L239.8,361.9 L240.5,362.2 L241.2,362.5 L241.8,362.8 L242.4,363.1 L242.9,363.3 L243.4,363.5 L243.6,363.6" fill="none" stroke="#100010" stroke-width="0.9"/>
<path d="M130.8,363.6 L131.6,363.4 L132.6,363.2 L133.8,363.0 L135.1,362.7 L136.6,362.4 L138.1,362.1 L139.7,361.8 L141.3,361.4 L142.9,361.1 L144.5,360.8 L146.1,360.5 L147.8,360.2 L149.5,359.8 L151.3,359.5 L153.1,359.1 L154.9,358.8 L156.7,358.5 L158.5,358.2 L160.2,357.9 L161.9,357.6 L163.5,357.4 L165.1,357.1 L166.7,356.9 L168.3,356.7 L169.8,356.6 L171.3,356.4 L172.8,356.2 L174.2,356.1 L175.5,356.0 L176.8,355.9 L178.0,355.8 L179.1,355.8 L180.1,355.7 L181.1,355.7 L182.1,355.6 L183.0,355.6 L183.9,355.7 L184.8,355.7 L185.7,355.8 L186.7,355.9 L187.7,356.0 L188.7,356.2 L189.7,356.4 L190.7,356.6 L191.7,356.8 L192.7,357.1 L193.7,357.4 L194.7,357.7 L195.7,358.0 L196.7,358.4 L197.7,358.8 L198.8,359.3 L200.0,359.8 L201.1,360.4 L202.3,361.0 L203.4,361.6 L204.4,362.1 L205.3,362.6 L206.0,363.0 L206.6,363.3" fill="none" stroke="#100010" stroke-width="0.9"/>
<text transform="translate(137.0,154.1) scale(1.310,1) rotate(28.2)" x="0" y="3.17" text-anchor="middle" font-size="8.80" font-weight="bold" letter-spacing="0.00" fill="#000" stroke="#000" stroke-width="0.12">-160</text>
<text transform="translate(196.6,165.6) scale(1.310,1) rotate(-6.0)" x="0" y="3.17" text-anchor="middle" font-size="8.80" font-weight="bold" letter-spacing="0.00" fill="#000" stroke="#000" stroke-width="0.12">-160</text>
<text transform="translate(257.4,150.9) scale(1.310,1) rotate(-19.1)" x="0" y="3.17" text-anchor="middle" font-size="8.80" font-weight="bold" letter-spacing="0.00" fill="#000" stroke="#000" stroke-width="0.12">-160</text>
<text transform="translate(315.6,130.5) scale(1.310,1) rotate(-42.2)" x="0" y="3.17" text-anchor="middle" font-size="8.80" font-weight="bold" letter-spacing="0.00" fill="#000" stroke="#000" stroke-width="0.12">-160</text>
<text transform="translate(349.4,90.6) scale(1.310,1) rotate(-67.3)" x="0" y="3.17" text-anchor="middle" font-size="8.80" font-weight="bold" letter-spacing="0.00" fill="#000" stroke="#000" stroke-width="0.12">-160</text>
<text transform="translate(378.0,47.3) scale(1.310,1) rotate(-56.0)" x="0" y="3.17" text-anchor="middle" font-size="8.80" font-weight="bold" letter-spacing="0.00" fill="#000" stroke="#000" stroke-width="0.12">-160</text>
<text transform="translate(146.2,216.7) scale(1.310,1) rotate(12.8)" x="0" y="3.17" text-anchor="middle" font-size="8.80" font-weight="bold" letter-spacing="0.00" fill="#000" stroke="#000" stroke-width="0.12">-180</text>
<text transform="translate(209.0,223.6) scale(1.310,1) rotate(-0.5)" x="0" y="3.17" text-anchor="middle" font-size="8.80" font-weight="bold" letter-spacing="0.00" fill="#000" stroke="#000" stroke-width="0.12">-180</text>
<text transform="translate(273.4,218.6) scale(1.310,1) rotate(-11.7)" x="0" y="3.17" text-anchor="middle" font-size="8.80" font-weight="bold" letter-spacing="0.00" fill="#000" stroke="#000" stroke-width="0.12">-180</text>
<text transform="translate(336.2,215.4) scale(1.310,1) rotate(0.1)" x="0" y="3.17" text-anchor="middle" font-size="8.80" font-weight="bold" letter-spacing="0.00" fill="#000" stroke="#000" stroke-width="0.12">-180</text>
<text transform="translate(397.8,202.8) scale(1.310,1) rotate(-37.0)" x="0" y="3.17" text-anchor="middle" font-size="8.80" font-weight="bold" letter-spacing="0.00" fill="#000" stroke="#000" stroke-width="0.12">-180</text>
<text transform="translate(442.0,167.7) scale(1.310,1) rotate(-44.9)" x="0" y="3.17" text-anchor="middle" font-size="8.80" font-weight="bold" letter-spacing="0.00" fill="#000" stroke="#000" stroke-width="0.12">-180</text>
<text transform="translate(495.2,143.6) scale(1.310,1) rotate(-19.9)" x="0" y="3.17" text-anchor="middle" font-size="8.80" font-weight="bold" letter-spacing="0.00" fill="#000" stroke="#000" stroke-width="0.12">-180</text>
<text transform="translate(102.3,238.4) scale(1.310,1) rotate(12.9)" x="0" y="3.17" text-anchor="middle" font-size="8.80" font-weight="bold" letter-spacing="0.00" fill="#000" stroke="#000" stroke-width="0.12">-200</text>
<text transform="translate(164.4,249.6) scale(1.310,1) rotate(12.7)" x="0" y="3.17" text-anchor="middle" font-size="8.80" font-weight="bold" letter-spacing="0.00" fill="#000" stroke="#000" stroke-width="0.12">-200</text>
<text transform="translate(227.4,260.0) scale(1.310,1) rotate(12.9)" x="0" y="3.17" text-anchor="middle" font-size="8.80" font-weight="bold" letter-spacing="0.00" fill="#000" stroke="#000" stroke-width="0.12">-200</text>
<text transform="translate(288.3,276.4) scale(1.310,1) rotate(23.5)" x="0" y="3.17" text-anchor="middle" font-size="8.80" font-weight="bold" letter-spacing="0.00" fill="#000" stroke="#000" stroke-width="0.12">-200</text>
<text transform="translate(368.0,284.0) scale(1.310,1) rotate(11.5)" x="0" y="3.17" text-anchor="middle" font-size="8.80" font-weight="bold" letter-spacing="0.00" fill="#000" stroke="#000" stroke-width="0.12">-200</text>
<text transform="translate(431.0,289.6) scale(1.310,1) rotate(-4.3)" x="0" y="3.17" text-anchor="middle" font-size="8.80" font-weight="bold" letter-spacing="0.00" fill="#000" stroke="#000" stroke-width="0.12">-200</text>
<text transform="translate(494.9,292.3) scale(1.310,1) rotate(6.9)" x="0" y="3.17" text-anchor="middle" font-size="8.80" font-weight="bold" letter-spacing="0.00" fill="#000" stroke="#000" stroke-width="0.12">-200</text>
<text transform="translate(114.2,265.8) scale(1.310,1) rotate(13.9)" x="0" y="3.17" text-anchor="middle" font-size="8.80" font-weight="bold" letter-spacing="0.00" fill="#000" stroke="#000" stroke-width="0.12">-220</text>
<text transform="translate(177.3,278.2) scale(1.310,1) rotate(14.5)" x="0" y="3.17" text-anchor="middle" font-size="8.80" font-weight="bold" letter-spacing="0.00" fill="#000" stroke="#000" stroke-width="0.12">-220</text>
<text transform="translate(239.9,290.6) scale(1.310,1) rotate(15.6)" x="0" y="3.17" text-anchor="middle" font-size="8.80" font-weight="bold" letter-spacing="0.00" fill="#000" stroke="#000" stroke-width="0.12">-220</text>
<text transform="translate(301.5,305.0) scale(1.310,1) rotate(15.6)" x="0" y="3.17" text-anchor="middle" font-size="8.80" font-weight="bold" letter-spacing="0.00" fill="#000" stroke="#000" stroke-width="0.12">-220</text>
<text transform="translate(365.4,314.2) scale(1.310,1) rotate(10.5)" x="0" y="3.17" text-anchor="middle" font-size="8.80" font-weight="bold" letter-spacing="0.00" fill="#000" stroke="#000" stroke-width="0.12">-220</text>
<text transform="translate(430.2,319.8) scale(1.310,1) rotate(-0.8)" x="0" y="3.17" text-anchor="middle" font-size="8.80" font-weight="bold" letter-spacing="0.00" fill="#000" stroke="#000" stroke-width="0.12">-220</text>
<text transform="translate(494.9,318.5) scale(1.310,1) rotate(-2.7)" x="0" y="3.17" text-anchor="middle" font-size="8.80" font-weight="bold" letter-spacing="0.00" fill="#000" stroke="#000" stroke-width="0.12">-220</text>
<text transform="translate(117.2,291.3) scale(1.310,1) rotate(11.7)" x="0" y="3.17" text-anchor="middle" font-size="8.80" font-weight="bold" letter-spacing="0.00" fill="#000" stroke="#000" stroke-width="0.12">-240</text>
<text transform="translate(180.5,302.3) scale(1.310,1) rotate(12.3)" x="0" y="3.17" text-anchor="middle" font-size="8.80" font-weight="bold" letter-spacing="0.00" fill="#000" stroke="#000" stroke-width="0.12">-240</text>
<text transform="translate(242.5,314.2) scale(1.310,1) rotate(16.1)" x="0" y="3.17" text-anchor="middle" font-size="8.80" font-weight="bold" letter-spacing="0.00" fill="#000" stroke="#000" stroke-width="0.12">-240</text>
<text transform="translate(304.2,328.0) scale(1.310,1) rotate(17.0)" x="0" y="3.17" text-anchor="middle" font-size="8.80" font-weight="bold" letter-spacing="0.00" fill="#000" stroke="#000" stroke-width="0.12">-240</text>
<text transform="translate(366.8,342.3) scale(1.310,1) rotate(16.8)" x="0" y="3.17" text-anchor="middle" font-size="8.80" font-weight="bold" letter-spacing="0.00" fill="#000" stroke="#000" stroke-width="0.12">-240</text>
<text transform="translate(430.8,348.4) scale(1.310,1) rotate(-1.8)" x="0" y="3.17" text-anchor="middle" font-size="8.80" font-weight="bold" letter-spacing="0.00" fill="#000" stroke="#000" stroke-width="0.12">-240</text>
<text transform="translate(494.9,343.0) scale(1.310,1) rotate(-8.9)" x="0" y="3.17" text-anchor="middle" font-size="8.80" font-weight="bold" letter-spacing="0.00" fill="#000" stroke="#000" stroke-width="0.12">-240</text>
<text transform="translate(121.4,318.2) scale(1.310,1) rotate(4.2)" x="0" y="3.17" text-anchor="middle" font-size="8.80" font-weight="bold" letter-spacing="0.00" fill="#000" stroke="#000" stroke-width="0.12">-260</text>
<text transform="translate(185.5,324.2) scale(1.310,1) rotate(9.9)" x="0" y="3.17" text-anchor="middle" font-size="8.80" font-weight="bold" letter-spacing="0.00" fill="#000" stroke="#000" stroke-width="0.12">-260</text>
<text transform="translate(247.9,337.6) scale(1.310,1) rotate(20.6)" x="0" y="3.17" text-anchor="middle" font-size="8.80" font-weight="bold" letter-spacing="0.00" fill="#000" stroke="#000" stroke-width="0.12">-260</text>
<text transform="translate(308.3,354.0) scale(1.310,1) rotate(22.6)" x="0" y="3.17" text-anchor="middle" font-size="8.80" font-weight="bold" letter-spacing="0.00" fill="#000" stroke="#000" stroke-width="0.12">-260</text>
<text transform="translate(154.9,344.9) scale(1.310,1) rotate(-3.0)" x="0" y="3.17" text-anchor="middle" font-size="8.80" font-weight="bold" letter-spacing="0.00" fill="#000" stroke="#000" stroke-width="0.12">-280</text>
<text transform="translate(217.2,354.4) scale(1.310,1) rotate(21.8)" x="0" y="3.17" text-anchor="middle" font-size="8.80" font-weight="bold" letter-spacing="0.00" fill="#000" stroke="#000" stroke-width="0.12">-280</text>
<g stroke="#444" stroke-width="0.85" fill="none">
<rect x="76.5" y="33.2" width="439.0" height="330.3"/>
<path d="M76.5,363.5 v4 M76.5,33.2 v-3.5 M76.5,363.5 h-5 M515.5,363.5 h6"/>
<path d="M186.2,363.5 v4 M186.2,33.2 v-3.5 M76.5,280.9 h-5 M515.5,280.9 h6"/>
<path d="M296.0,363.5 v4 M296.0,33.2 v-3.5 M76.5,198.3 h-5 M515.5,198.3 h6"/>
<path d="M405.8,363.5 v4 M405.8,33.2 v-3.5 M76.5,115.8 h-5 M515.5,115.8 h6"/>
<path d="M515.5,363.5 v4 M515.5,33.2 v-3.5 M76.5,33.2 h-5 M515.5,33.2 h6"/>
</g>
<text transform="translate(76.5,375.2) scale(1.100,1)" text-anchor="middle" font-size="9.40" letter-spacing="0.00" fill="#111" stroke="#111" stroke-width="0.1">0</text>
<text transform="translate(70.3,366.6) scale(1.100,1)" text-anchor="end" font-size="9.40" letter-spacing="0.00" fill="#111" stroke="#111" stroke-width="0.1">0</text>
<text transform="translate(186.2,375.2) scale(1.100,1)" text-anchor="middle" font-size="9.40" letter-spacing="0.00" fill="#111" stroke="#111" stroke-width="0.1">200</text>
<text transform="translate(70.3,284.0) scale(1.100,1)" text-anchor="end" font-size="9.40" letter-spacing="0.00" fill="#111" stroke="#111" stroke-width="0.1">200</text>
<text transform="translate(296.0,375.2) scale(1.100,1)" text-anchor="middle" font-size="9.40" letter-spacing="0.00" fill="#111" stroke="#111" stroke-width="0.1">400</text>
<text transform="translate(70.3,201.4) scale(1.100,1)" text-anchor="end" font-size="9.40" letter-spacing="0.00" fill="#111" stroke="#111" stroke-width="0.1">400</text>
<text transform="translate(405.8,375.2) scale(1.100,1)" text-anchor="middle" font-size="9.40" letter-spacing="0.00" fill="#111" stroke="#111" stroke-width="0.1">600</text>
<text transform="translate(70.3,118.9) scale(1.100,1)" text-anchor="end" font-size="9.40" letter-spacing="0.00" fill="#111" stroke="#111" stroke-width="0.1">600</text>
<text transform="translate(515.5,375.2) scale(1.100,1)" text-anchor="middle" font-size="9.40" letter-spacing="0.00" fill="#111" stroke="#111" stroke-width="0.1">800</text>
<text transform="translate(70.3,36.3) scale(1.100,1)" text-anchor="end" font-size="9.40" letter-spacing="0.00" fill="#111" stroke="#111" stroke-width="0.1">800</text>
<text transform="translate(296.9,389.1) scale(1.03,1)" text-anchor="middle" font-size="9.7" letter-spacing="0.52" word-spacing="0.6" fill="#111">Distance in X-direction (mm)</text>
<text transform="translate(44.6,197.9) scale(1.25,1) rotate(-90)" text-anchor="middle" font-size="8.63" fill="#111">Distance in Y-direction (mm)</text>
<rect x="34.9" y="380.8" width="1.2" height="12.8" fill="#444"/>
<rect x="529.9" y="112.90" width="15.1" height="6.57" fill="#ffffff" stroke="#200" stroke-width="0.6"/>
<rect x="529.9" y="119.47" width="15.1" height="6.02" fill="#ffffed" stroke="#200" stroke-width="0.6"/>
<rect x="529.9" y="125.49" width="15.1" height="6.02" fill="#ffffdb" stroke="#200" stroke-width="0.6"/>
<rect x="529.9" y="131.51" width="15.1" height="6.02" fill="#ffffc8" stroke="#200" stroke-width="0.6"/>
<rect x="529.9" y="137.53" width="15.1" height="6.02" fill="#ffffb6" stroke="#200" stroke-width="0.6"/>
<rect x="529.9" y="143.55" width="15.1" height="6.02" fill="#ffffa4" stroke="#200" stroke-width="0.6"/>
<rect x="529.9" y="149.57" width="15.1" height="6.02" fill="#ffff92" stroke="#200" stroke-width="0.6"/>
<rect x="529.9" y="155.59" width="15.1" height="6.02" fill="#ffff80" stroke="#200" stroke-width="0.6"/>
<rect x="529.9" y="161.61" width="15.1" height="6.02" fill="#ffff6d" stroke="#200" stroke-width="0.6"/>
<rect x="529.9" y="167.63" width="15.1" height="6.02" fill="#ffff5b" stroke="#200" stroke-width="0.6"/>
<rect x="529.9" y="173.65" width="15.1" height="6.02" fill="#ffff49" stroke="#200" stroke-width="0.6"/>
<rect x="529.9" y="179.67" width="15.1" height="6.02" fill="#ffff37" stroke="#200" stroke-width="0.6"/>
<rect x="529.9" y="185.69" width="15.1" height="6.02" fill="#ffff24" stroke="#200" stroke-width="0.6"/>
<rect x="529.9" y="191.71" width="15.1" height="6.02" fill="#ffff12" stroke="#200" stroke-width="0.6"/>
<rect x="529.9" y="197.73" width="15.1" height="6.02" fill="#ffff00" stroke="#200" stroke-width="0.6"/>
<rect x="529.9" y="203.75" width="15.1" height="6.02" fill="#ffff00" stroke="#200" stroke-width="0.6"/>
<rect x="529.9" y="209.77" width="15.1" height="6.02" fill="#ffbf40" stroke="#200" stroke-width="0.6"/>
<rect x="529.9" y="215.79" width="15.1" height="6.02" fill="#ff8080" stroke="#200" stroke-width="0.6"/>
<rect x="529.9" y="221.81" width="15.1" height="6.02" fill="#ff40bf" stroke="#200" stroke-width="0.6"/>
<rect x="529.9" y="227.83" width="15.1" height="6.02" fill="#ff00ff" stroke="#200" stroke-width="0.6"/>
<rect x="529.9" y="233.85" width="15.1" height="6.02" fill="#ff00ff" stroke="#200" stroke-width="0.6"/>
<rect x="529.9" y="239.87" width="15.1" height="6.02" fill="#ff00fa" stroke="#200" stroke-width="0.6"/>
<rect x="529.9" y="245.89" width="15.1" height="6.02" fill="#ff00f0" stroke="#200" stroke-width="0.6"/>
<rect x="529.9" y="251.91" width="15.1" height="6.02" fill="#ff00de" stroke="#200" stroke-width="0.6"/>
<rect x="529.9" y="257.93" width="15.1" height="6.02" fill="#ff00c6" stroke="#200" stroke-width="0.6"/>
<rect x="529.9" y="263.95" width="15.1" height="6.02" fill="#ff00aa" stroke="#200" stroke-width="0.6"/>
<rect x="529.9" y="269.97" width="15.1" height="6.02" fill="#ff0082" stroke="#200" stroke-width="0.6"/>
<rect x="529.9" y="275.99" width="15.1" height="6.02" fill="#ff005f" stroke="#200" stroke-width="0.6"/>
<rect x="529.9" y="282.01" width="15.1" height="6.02" fill="#ff003a" stroke="#200" stroke-width="0.6"/>
<rect x="529.9" y="288.03" width="15.1" height="6.02" fill="#ff001d" stroke="#200" stroke-width="0.6"/>
<rect x="529.9" y="294.05" width="15.1" height="6.02" fill="#ff0000" stroke="#200" stroke-width="0.6"/>
<rect x="529.9" y="300.07" width="15.1" height="6.02" fill="#ff0000" stroke="#200" stroke-width="0.6"/>
<rect x="529.9" y="306.09" width="15.1" height="6.02" fill="#ff0000" stroke="#200" stroke-width="0.6"/>
<rect x="529.9" y="312.11" width="15.1" height="6.02" fill="#ff0000" stroke="#200" stroke-width="0.6"/>
<rect x="529.9" y="318.13" width="15.1" height="6.02" fill="#ff0000" stroke="#200" stroke-width="0.6"/>
<rect x="529.9" y="324.15" width="15.1" height="6.02" fill="#ff0000" stroke="#200" stroke-width="0.6"/>
<rect x="529.9" y="330.17" width="15.1" height="6.02" fill="#ff0000" stroke="#200" stroke-width="0.6"/>
<rect x="529.9" y="336.19" width="15.1" height="6.02" fill="#ff0000" stroke="#200" stroke-width="0.6"/>
<rect x="529.9" y="342.21" width="15.1" height="6.02" fill="#ff0000" stroke="#200" stroke-width="0.6"/>
<rect x="529.9" y="348.23" width="15.1" height="6.02" fill="#ff0000" stroke="#200" stroke-width="0.6"/>
<rect x="529.9" y="354.25" width="15.1" height="6.02" fill="#ff0000" stroke="#200" stroke-width="0.6"/>
<text transform="translate(547.4,129.1) scale(0.905,1)" font-size="10" fill="#111">-10mV</text>
<text transform="translate(547.4,147.2) scale(0.905,1)" font-size="10" fill="#111">-40mV</text>
<text transform="translate(547.4,165.2) scale(0.905,1)" font-size="10" fill="#111">-70mV</text>
<text transform="translate(547.4,183.3) scale(0.905,1)" font-size="10" fill="#111">-100mV</text>
<text transform="translate(547.4,201.3) scale(0.905,1)" font-size="10" fill="#111">-130mV</text>
<text transform="translate(547.4,219.4) scale(0.905,1)" font-size="10" fill="#111">-160mV</text>
<text transform="translate(547.4,237.4) scale(0.905,1)" font-size="10" fill="#111">-190mV</text>
<text transform="translate(547.4,255.5) scale(0.905,1)" font-size="10" fill="#111">-220mV</text>
<text transform="translate(547.4,273.6) scale(0.905,1)" font-size="10" fill="#111">-250mV</text>
<text transform="translate(547.4,291.6) scale(0.905,1)" font-size="10" fill="#111">-280mV</text>
<text transform="translate(547.4,309.7) scale(0.905,1)" font-size="10" fill="#111">-310mV</text>
<text transform="translate(547.4,327.8) scale(0.905,1)" font-size="10" fill="#111">-340mV</text>
<text transform="translate(547.4,345.8) scale(0.905,1)" font-size="10" fill="#111">-370mV</text>
<text transform="translate(547.4,363.9) scale(0.905,1)" font-size="10" fill="#111">-400mV</text>
</g>
</svg>
</body></html>
